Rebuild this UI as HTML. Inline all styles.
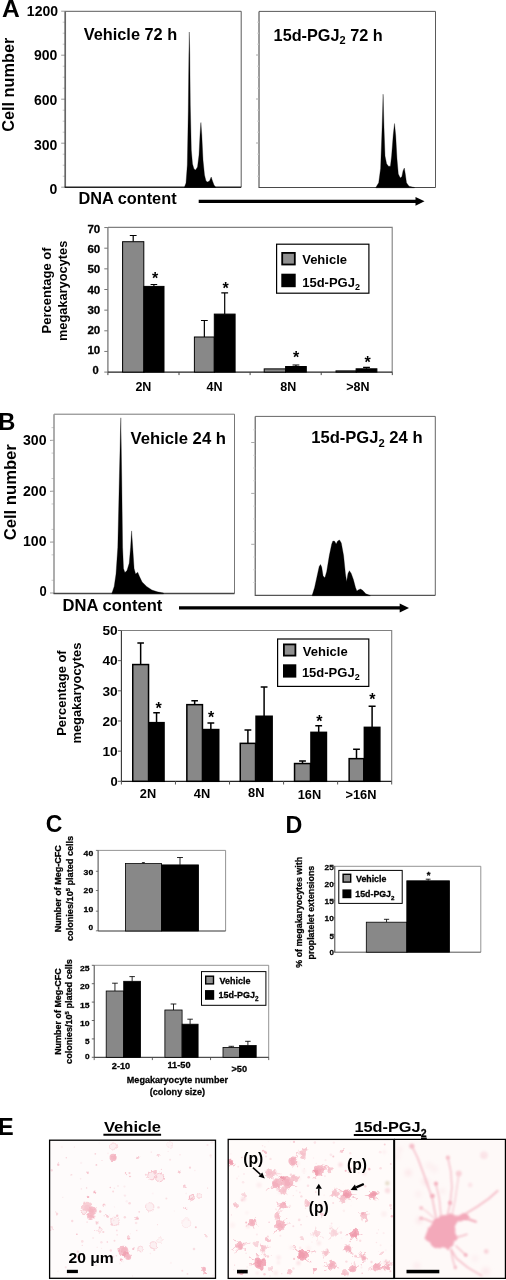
<!DOCTYPE html>
<html><head><meta charset="utf-8"><title>Figure</title>
<style>html,body{margin:0;padding:0;background:#fff;}body{width:506px;height:1280px;overflow:hidden;font-family:"Liberation Sans",sans-serif;}svg{display:block;}</style></head>
<body>
<svg width="506" height="1280" viewBox="0 0 506 1280" font-family="Liberation Sans, sans-serif" font-weight="bold" fill="#000">
<defs>
<filter id="b1" x="-50%" y="-50%" width="200%" height="200%"><feGaussianBlur stdDeviation="1.1"/></filter>
<filter id="b2" x="-50%" y="-50%" width="200%" height="200%"><feGaussianBlur stdDeviation="2.2"/></filter>
<filter id="b05" x="-50%" y="-50%" width="200%" height="200%"><feGaussianBlur stdDeviation="0.6"/></filter>
<filter id="rough" x="-5%" y="-5%" width="110%" height="110%"><feTurbulence type="fractalNoise" baseFrequency="0.22" numOctaves="2" seed="4" result="n"/><feDisplacementMap in="SourceGraphic" in2="n" scale="5" xChannelSelector="R" yChannelSelector="G"/><feGaussianBlur stdDeviation="0.7"/></filter>
<filter id="rough2" x="-5%" y="-5%" width="110%" height="110%"><feTurbulence type="fractalNoise" baseFrequency="0.3" numOctaves="2" seed="9" result="n"/><feDisplacementMap in="SourceGraphic" in2="n" scale="3.5" xChannelSelector="R" yChannelSelector="G"/><feGaussianBlur stdDeviation="0.7"/></filter>
<filter id="rough3" x="-10%" y="-10%" width="120%" height="120%"><feTurbulence type="fractalNoise" baseFrequency="0.09" numOctaves="2" seed="3" result="n"/><feDisplacementMap in="SourceGraphic" in2="n" scale="7" xChannelSelector="R" yChannelSelector="G"/><feGaussianBlur stdDeviation="1.0"/></filter>
<filter id="soft" x="-2%" y="-2%" width="104%" height="104%"><feGaussianBlur stdDeviation="0.3"/></filter>
</defs>
<rect width="506" height="1280" fill="#fff"/>
<g filter="url(#soft)">
<text x="2.0" y="16.8" font-size="24.6" text-anchor="start" >A</text>
<text transform="translate(13.8,84.75) rotate(-90)" font-size="16.3" text-anchor="middle" textLength="94.1" lengthAdjust="spacingAndGlyphs">Cell number</text>
<text x="58.0" y="16.4" font-size="14" text-anchor="end" >1200</text>
<path d="M61.2,11.2 H65.2" stroke="#999" stroke-width="1"/>
<text x="57.4" y="60.2" font-size="14" text-anchor="end" >900</text>
<path d="M61.2,55.2 H65.2" stroke="#999" stroke-width="1"/>
<text x="57.4" y="104.8" font-size="14" text-anchor="end" >600</text>
<path d="M61.2,99.2 H65.2" stroke="#999" stroke-width="1"/>
<text x="57.4" y="149.9" font-size="14" text-anchor="end" >300</text>
<path d="M61.2,143.2 H65.2" stroke="#999" stroke-width="1"/>
<text x="57.4" y="193.9" font-size="14" text-anchor="end" >0</text>
<path d="M61.2,187.2 H65.2" stroke="#999" stroke-width="1"/>
<path d="M62.7,22.2 H65.2" stroke="#c4c4c4" stroke-width="0.9"/>
<path d="M62.7,33.2 H65.2" stroke="#c4c4c4" stroke-width="0.9"/>
<path d="M62.7,44.2 H65.2" stroke="#c4c4c4" stroke-width="0.9"/>
<path d="M62.7,66.2 H65.2" stroke="#c4c4c4" stroke-width="0.9"/>
<path d="M62.7,77.2 H65.2" stroke="#c4c4c4" stroke-width="0.9"/>
<path d="M62.7,88.2 H65.2" stroke="#c4c4c4" stroke-width="0.9"/>
<path d="M62.7,110.2 H65.2" stroke="#c4c4c4" stroke-width="0.9"/>
<path d="M62.7,121.2 H65.2" stroke="#c4c4c4" stroke-width="0.9"/>
<path d="M62.7,132.2 H65.2" stroke="#c4c4c4" stroke-width="0.9"/>
<path d="M62.7,154.2 H65.2" stroke="#c4c4c4" stroke-width="0.9"/>
<path d="M62.7,165.2 H65.2" stroke="#c4c4c4" stroke-width="0.9"/>
<path d="M62.7,176.2 H65.2" stroke="#c4c4c4" stroke-width="0.9"/>
<path d="M65.2,11.3 H241.2 V187.2" fill="none" stroke="#5a5a5a" stroke-width="1"/>
<path d="M65.2,11.3 V187.2" fill="none" stroke="#666" stroke-width="1.7"/>
<path d="M64.7,187.2 H241.2" fill="none" stroke="#222" stroke-width="1.4"/>
<path d="M184.50,187.50 L184.50,187.00 L186.00,183.00 L187.30,165.00 L188.30,110.00 L188.90,55.00 L189.30,32.00 L189.80,55.00 L190.30,105.00 L191.30,150.00 L192.50,164.00 L194.00,169.00 L195.60,170.00 L197.50,167.00 L199.00,155.00 L200.00,135.00 L200.90,122.50 L201.80,135.00 L203.00,160.00 L204.50,175.00 L206.00,181.00 L207.50,182.00 L209.50,181.00 L211.20,177.00 L212.50,181.00 L214.00,185.00 L215.50,187.00 L215.50,187.50 Z" fill="#000" stroke="#000" stroke-width="0.3" stroke-linejoin="round"/>
<text x="83.7" y="40" font-size="16.3" text-anchor="start" textLength="93.5" lengthAdjust="spacingAndGlyphs" >Vehicle 72 h</text>
<path d="M259,11.4 H435.5 V187.5" fill="none" stroke="#5a5a5a" stroke-width="1"/>
<path d="M259,11.4 V187.5 H435.5" fill="none" stroke="#4a4a4a" stroke-width="1.1"/>
<path d="M256,55 H259" stroke="#aaa" stroke-width="1"/>
<path d="M256,99 H259" stroke="#aaa" stroke-width="1"/>
<path d="M256,143 H259" stroke="#aaa" stroke-width="1"/>
<path d="M257,22.2 H259" stroke="#d0d0d0" stroke-width="0.9"/>
<path d="M257,33.2 H259" stroke="#d0d0d0" stroke-width="0.9"/>
<path d="M257,44.2 H259" stroke="#d0d0d0" stroke-width="0.9"/>
<path d="M257,66.2 H259" stroke="#d0d0d0" stroke-width="0.9"/>
<path d="M257,77.2 H259" stroke="#d0d0d0" stroke-width="0.9"/>
<path d="M257,88.2 H259" stroke="#d0d0d0" stroke-width="0.9"/>
<path d="M257,110.2 H259" stroke="#d0d0d0" stroke-width="0.9"/>
<path d="M257,121.2 H259" stroke="#d0d0d0" stroke-width="0.9"/>
<path d="M257,132.2 H259" stroke="#d0d0d0" stroke-width="0.9"/>
<path d="M257,154.2 H259" stroke="#d0d0d0" stroke-width="0.9"/>
<path d="M257,165.2 H259" stroke="#d0d0d0" stroke-width="0.9"/>
<path d="M257,176.2 H259" stroke="#d0d0d0" stroke-width="0.9"/>
<path d="M375.80,187.80 L375.80,187.50 L378.70,182.80 L380.60,168.50 L382.10,127.40 L383.10,94.20 L384.00,127.40 L385.00,155.90 L386.60,163.80 L388.50,166.20 L390.40,166.20 L391.60,155.90 L393.20,135.30 L394.50,123.50 L395.70,135.30 L397.00,159.00 L398.30,174.00 L400.30,178.00 L401.90,176.40 L403.00,170.90 L404.30,168.00 L405.20,173.30 L406.50,182.80 L409.00,186.20 L414.50,187.50 L414.50,187.80 Z" fill="#000" stroke="#000" stroke-width="0.3" stroke-linejoin="round"/>
<text x="273.6" y="40.6" font-size="16.25" text-anchor="start" >15d-PGJ<tspan font-size="11" dy="3.8">2</tspan><tspan dy="-3.85"> 72 h</tspan></text>
<text x="78.4" y="204.3" font-size="16.3" text-anchor="start" textLength="98.2" lengthAdjust="spacingAndGlyphs" >DNA content</text>
<path d="M198.7,201.3 H417" stroke="#000" stroke-width="3.2"/>
<path d="M424.5,201.3 L415.5,196.9 L415.5,205.7 Z" fill="#000"/>
<path d="M107.9,227.4 H392.2 V372.1" fill="none" stroke="#808080" stroke-width="1.1"/>
<path d="M107.9,227.4 V372.1" fill="none" stroke="#777" stroke-width="1.3"/>
<path d="M107.9,372.1 H392.2" fill="none" stroke="#222" stroke-width="1.1"/>
<path d="M104.30000000000001,372.1 H107.9" stroke="#777" stroke-width="1"/>
<text x="98.8" y="374.3" font-size="10.2" text-anchor="end" textLength="6.2" lengthAdjust="spacingAndGlyphs"  stroke="#000" stroke-width="0.28">0</text>
<path d="M104.30000000000001,351.45000000000005 H107.9" stroke="#777" stroke-width="1"/>
<text x="100.2" y="354.1" font-size="10.2" text-anchor="end" textLength="12.8" lengthAdjust="spacingAndGlyphs"  stroke="#000" stroke-width="0.28">10</text>
<path d="M104.30000000000001,330.8 H107.9" stroke="#777" stroke-width="1"/>
<text x="100.2" y="333.90000000000003" font-size="10.2" text-anchor="end" textLength="12.8" lengthAdjust="spacingAndGlyphs"  stroke="#000" stroke-width="0.28">20</text>
<path d="M104.30000000000001,310.15000000000003 H107.9" stroke="#777" stroke-width="1"/>
<text x="100.2" y="313.70000000000005" font-size="10.2" text-anchor="end" textLength="12.8" lengthAdjust="spacingAndGlyphs"  stroke="#000" stroke-width="0.28">30</text>
<path d="M104.30000000000001,289.5 H107.9" stroke="#777" stroke-width="1"/>
<text x="100.2" y="293.5" font-size="10.2" text-anchor="end" textLength="12.8" lengthAdjust="spacingAndGlyphs"  stroke="#000" stroke-width="0.28">40</text>
<path d="M104.30000000000001,268.85 H107.9" stroke="#777" stroke-width="1"/>
<text x="100.2" y="273.3" font-size="10.2" text-anchor="end" textLength="12.8" lengthAdjust="spacingAndGlyphs"  stroke="#000" stroke-width="0.28">50</text>
<path d="M104.30000000000001,248.20000000000005 H107.9" stroke="#777" stroke-width="1"/>
<text x="100.2" y="253.10000000000002" font-size="10.2" text-anchor="end" textLength="12.8" lengthAdjust="spacingAndGlyphs"  stroke="#000" stroke-width="0.28">60</text>
<path d="M104.30000000000001,227.55000000000004 H107.9" stroke="#777" stroke-width="1"/>
<text x="100.2" y="232.9" font-size="10.2" text-anchor="end" textLength="12.8" lengthAdjust="spacingAndGlyphs"  stroke="#000" stroke-width="0.28">70</text>
<path d="M107.9,372.1 V375.1" stroke="#444" stroke-width="1"/>
<path d="M179.0,372.1 V375.1" stroke="#444" stroke-width="1"/>
<path d="M250.1,372.1 V375.1" stroke="#444" stroke-width="1"/>
<path d="M321.2,372.1 V375.1" stroke="#444" stroke-width="1"/>
<path d="M392.29999999999995,372.1 V375.1" stroke="#444" stroke-width="1"/>
<path d="M133.2,241.7 V235.5 M129.79999999999998,235.5 H136.6" stroke="#000" stroke-width="1.2" fill="none"/>
<rect x="122.6" y="241.7" width="21.200000000000017" height="130.40000000000003" fill="#888888" stroke="#000" stroke-width="1.0"/>
<path d="M153.9,286.4 V284.5 M150.6,284.5 H157.20000000000002" stroke="#000" stroke-width="1.2" fill="none"/>
<rect x="143.8" y="286.4" width="20.19999999999999" height="85.70000000000005" fill="#000" stroke="#000" stroke-width="1.0"/>
<path d="M204.35000000000002,337 V320.5 M200.95000000000002,320.5 H207.75000000000003" stroke="#000" stroke-width="1.2" fill="none"/>
<rect x="194.4" y="337" width="19.900000000000006" height="35.10000000000002" fill="#888888" stroke="#000" stroke-width="1.0"/>
<path d="M224.7,314.1 V292.8 M221.29999999999998,292.8 H228.1" stroke="#000" stroke-width="1.2" fill="none"/>
<rect x="214.3" y="314.1" width="20.799999999999983" height="58.0" fill="#000" stroke="#000" stroke-width="1.0"/>
<rect x="264.2" y="368.9" width="21.400000000000034" height="3.2000000000000455" fill="#888888" stroke="#000" stroke-width="1.0"/>
<path d="M295.95000000000005,366.5 V365 M292.55000000000007,365 H299.35" stroke="#000" stroke-width="1.2" fill="none"/>
<rect x="285.6" y="366.5" width="20.69999999999999" height="5.600000000000023" fill="#000" stroke="#000" stroke-width="1.0"/>
<rect x="336" y="370.9" width="20.100000000000023" height="1.2000000000000455" fill="#888888" stroke="#000" stroke-width="1.0"/>
<path d="M366.5,368.8 V367.4 M363.1,367.4 H369.9" stroke="#000" stroke-width="1.2" fill="none"/>
<rect x="356.1" y="368.8" width="20.799999999999955" height="3.3000000000000114" fill="#000" stroke="#000" stroke-width="1.0"/>
<text x="155.1" y="283.64" font-size="16" text-anchor="middle" >*</text>
<text x="225.7" y="294.04" font-size="16" text-anchor="middle" >*</text>
<text x="296" y="363.44" font-size="16" text-anchor="middle" >*</text>
<text x="367.7" y="367.84" font-size="16" text-anchor="middle" >*</text>
<text x="143.4" y="391" font-size="12.5" text-anchor="middle" >2N</text>
<text x="214.5" y="391" font-size="12.5" text-anchor="middle" >4N</text>
<text x="288.2" y="391" font-size="12.5" text-anchor="middle" >8N</text>
<text x="357.8" y="391" font-size="12.5" text-anchor="middle" >&gt;8N</text>
<text transform="translate(51.2,290.4) rotate(-90)" font-size="12" text-anchor="middle" textLength="86" lengthAdjust="spacingAndGlyphs">Percentage of</text>
<text transform="translate(67.1,290.9) rotate(-90)" font-size="12" text-anchor="middle" textLength="100.4" lengthAdjust="spacingAndGlyphs">megakaryocytes</text>
<rect x="276.6" y="244.2" width="92.3" height="49" fill="#fff" stroke="#000" stroke-width="1.2"/>
<rect x="282.2" y="252.9" width="12.6" height="11.6" fill="#909090" stroke="#000" stroke-width="1.8"/>
<rect x="281.3" y="273.7" width="14.4" height="13.5" fill="#000"/>
<text x="302.2" y="264.3" font-size="13" text-anchor="start" >Vehicle</text>
<text x="302.2" y="286.5" font-size="13" text-anchor="start" >15d-PGJ<tspan font-size="9" dy="3.1">2</tspan></text>
<text x="-1.7" y="429.9" font-size="23.7" text-anchor="start" >B</text>
<text transform="translate(16,492.25) rotate(-90)" font-size="16.5" text-anchor="middle" textLength="96.1" lengthAdjust="spacingAndGlyphs">Cell number</text>
<text x="46.6" y="444.59999999999997" font-size="14.2" text-anchor="end" textLength="23.6" lengthAdjust="spacingAndGlyphs" >300</text>
<path d="M50,440.4 H54" stroke="#999" stroke-width="1"/>
<text x="46.6" y="495.5" font-size="14.2" text-anchor="end" textLength="23.6" lengthAdjust="spacingAndGlyphs" >200</text>
<path d="M50,491.3 H54" stroke="#999" stroke-width="1"/>
<text x="46.6" y="546.3000000000001" font-size="14.2" text-anchor="end" textLength="23.6" lengthAdjust="spacingAndGlyphs" >100</text>
<path d="M50,542.1 H54" stroke="#999" stroke-width="1"/>
<text x="46.6" y="596.4" font-size="14.2" text-anchor="end" textLength="7.2" lengthAdjust="spacingAndGlyphs" >0</text>
<path d="M50,593 H54" stroke="#999" stroke-width="1"/>
<path d="M54,414.2 H234.5 V593.5" fill="none" stroke="#777" stroke-width="1"/>
<path d="M51.5,580.28 H54" stroke="#c4c4c4" stroke-width="0.9"/>
<path d="M51.5,554.84 H54" stroke="#c4c4c4" stroke-width="0.9"/>
<path d="M51.5,542.12 H54" stroke="#c4c4c4" stroke-width="0.9"/>
<path d="M51.5,529.4 H54" stroke="#c4c4c4" stroke-width="0.9"/>
<path d="M51.5,503.96 H54" stroke="#c4c4c4" stroke-width="0.9"/>
<path d="M51.5,491.24 H54" stroke="#c4c4c4" stroke-width="0.9"/>
<path d="M51.5,478.52 H54" stroke="#c4c4c4" stroke-width="0.9"/>
<path d="M51.5,453.08 H54" stroke="#c4c4c4" stroke-width="0.9"/>
<path d="M51.5,440.36 H54" stroke="#c4c4c4" stroke-width="0.9"/>
<path d="M51.5,427.64 H54" stroke="#c4c4c4" stroke-width="0.9"/>
<path d="M54,414.2 V593.5" fill="none" stroke="#999" stroke-width="1.6"/>
<path d="M53.5,593.5 H234.5" fill="none" stroke="#444" stroke-width="1.3"/>
<path d="M111.90,593.80 L111.90,593.20 L114.20,586.40 L116.00,574.00 L117.80,547.30 L119.40,476.10 L120.80,417.80 L121.70,476.10 L122.60,547.30 L123.50,568.60 L124.90,572.60 L127.00,570.40 L129.20,563.30 L130.60,547.30 L131.60,530.90 L132.70,547.30 L134.10,568.60 L135.60,574.00 L137.70,572.20 L139.50,576.60 L142.10,582.00 L146.60,586.40 L151.90,590.00 L157.30,591.80 L163.50,593.00 L163.50,593.80 Z" fill="#000" stroke="#000" stroke-width="0.3" stroke-linejoin="round"/>
<text x="130.5" y="443.7" font-size="16.6" text-anchor="start" textLength="95.5" lengthAdjust="spacingAndGlyphs" >Vehicle 24 h</text>
<path d="M255.2,416.4 H435.3 V595.4" fill="none" stroke="#666" stroke-width="1"/>
<path d="M255.2,416.4 V595.4 H435.3" fill="none" stroke="#555" stroke-width="1.1"/>
<path d="M251.2,442.5 H255.2" stroke="#aaa" stroke-width="1"/>
<path d="M251.2,493.4 H255.2" stroke="#aaa" stroke-width="1"/>
<path d="M251.2,544.3 H255.2" stroke="#aaa" stroke-width="1"/>
<path d="M253.2,582.48 H255.2" stroke="#d0d0d0" stroke-width="0.9"/>
<path d="M253.2,569.76 H255.2" stroke="#d0d0d0" stroke-width="0.9"/>
<path d="M253.2,557.0400000000001 H255.2" stroke="#d0d0d0" stroke-width="0.9"/>
<path d="M253.2,531.6 H255.2" stroke="#d0d0d0" stroke-width="0.9"/>
<path d="M253.2,518.88 H255.2" stroke="#d0d0d0" stroke-width="0.9"/>
<path d="M253.2,506.16 H255.2" stroke="#d0d0d0" stroke-width="0.9"/>
<path d="M253.2,480.72 H255.2" stroke="#d0d0d0" stroke-width="0.9"/>
<path d="M253.2,468.00000000000006 H255.2" stroke="#d0d0d0" stroke-width="0.9"/>
<path d="M253.2,455.28000000000003 H255.2" stroke="#d0d0d0" stroke-width="0.9"/>
<path d="M253.2,429.84000000000003 H255.2" stroke="#d0d0d0" stroke-width="0.9"/>
<path d="M312.10,595.80 L312.10,595.60 L314.60,587.60 L316.90,576.90 L319.20,566.60 L320.50,564.50 L321.70,567.10 L323.10,576.00 L324.90,577.80 L326.70,571.60 L329.30,555.60 L331.70,544.00 L332.90,541.00 L334.70,541.30 L336.10,544.00 L337.70,541.00 L339.50,539.90 L341.30,543.10 L343.60,555.60 L345.40,573.40 L346.60,581.40 L348.00,573.40 L349.40,570.70 L351.20,573.40 L353.40,579.60 L355.50,587.60 L356.90,591.10 L358.70,589.70 L360.50,589.00 L362.60,590.30 L365.80,593.80 L370.30,595.60 L370.30,595.80 Z" fill="#000" stroke="#000" stroke-width="0.3" stroke-linejoin="round"/>
<text x="311.2" y="443.2" font-size="16.6" text-anchor="start" >15d-PGJ<tspan font-size="11.2" dy="3.9">2</tspan><tspan dy="-3.9"> 24 h</tspan></text>
<text x="62.5" y="610.7" font-size="16.5" text-anchor="start" textLength="99.8" lengthAdjust="spacingAndGlyphs" >DNA content</text>
<path d="M179,607.9 H401" stroke="#000" stroke-width="3.2"/>
<path d="M409,608 L399.7,603.6 L399.7,612.4 Z" fill="#000"/>
<path d="M121.4,630.5 H391.7 V781.3" fill="none" stroke="#808080" stroke-width="1.1"/>
<path d="M121.4,630.5 V781.3" fill="none" stroke="#333" stroke-width="1.1"/>
<path d="M121.4,781.3 H391.7" fill="none" stroke="#222" stroke-width="1.2"/>
<path d="M117.80000000000001,781.3 H121.4" stroke="#555" stroke-width="1"/>
<text x="117.6" y="786.0" font-size="12.4" text-anchor="end" textLength="7.2" lengthAdjust="spacingAndGlyphs" >0</text>
<path d="M117.80000000000001,751.14 H121.4" stroke="#555" stroke-width="1"/>
<text x="117.6" y="755.84" font-size="12.4" text-anchor="end" textLength="15.2" lengthAdjust="spacingAndGlyphs" >10</text>
<path d="M117.80000000000001,720.9799999999999 H121.4" stroke="#555" stroke-width="1"/>
<text x="117.6" y="725.68" font-size="12.4" text-anchor="end" textLength="15.2" lengthAdjust="spacingAndGlyphs" >20</text>
<path d="M117.80000000000001,690.8199999999999 H121.4" stroke="#555" stroke-width="1"/>
<text x="117.6" y="695.52" font-size="12.4" text-anchor="end" textLength="15.2" lengthAdjust="spacingAndGlyphs" >30</text>
<path d="M117.80000000000001,660.66 H121.4" stroke="#555" stroke-width="1"/>
<text x="117.6" y="665.36" font-size="12.4" text-anchor="end" textLength="15.2" lengthAdjust="spacingAndGlyphs" >40</text>
<path d="M117.80000000000001,630.5 H121.4" stroke="#555" stroke-width="1"/>
<text x="117.6" y="635.2" font-size="12.4" text-anchor="end" textLength="15.2" lengthAdjust="spacingAndGlyphs" >50</text>
<path d="M121.4,781.3 V784.5" stroke="#555" stroke-width="1"/>
<path d="M175.46,781.3 V784.5" stroke="#555" stroke-width="1"/>
<path d="M229.52,781.3 V784.5" stroke="#555" stroke-width="1"/>
<path d="M283.58000000000004,781.3 V784.5" stroke="#555" stroke-width="1"/>
<path d="M337.64,781.3 V784.5" stroke="#555" stroke-width="1"/>
<path d="M391.70000000000005,781.3 V784.5" stroke="#555" stroke-width="1"/>
<path d="M140.65,664.55 V643 M137.35,643 H143.95000000000002" stroke="#000" stroke-width="1.5" fill="none"/>
<rect x="132.75" y="664.55" width="15.800000000000011" height="116.75" fill="#888888" stroke="#000" stroke-width="1.5"/>
<path d="M156.55,722.65 V712.7 M153.25,712.7 H159.85000000000002" stroke="#000" stroke-width="1.5" fill="none"/>
<rect x="149.05" y="722.65" width="15.0" height="58.64999999999998" fill="#000" stroke="#000" stroke-width="1.5"/>
<path d="M194.64999999999998,704.65 V700.8 M191.34999999999997,700.8 H197.95" stroke="#000" stroke-width="1.5" fill="none"/>
<rect x="186.85" y="704.65" width="15.599999999999994" height="76.64999999999998" fill="#888888" stroke="#000" stroke-width="1.5"/>
<path d="M210.85,729.55 V722.9 M207.45,722.9 H214.25" stroke="#000" stroke-width="1.5" fill="none"/>
<rect x="202.95" y="729.55" width="15.800000000000011" height="51.75" fill="#000" stroke="#000" stroke-width="1.5"/>
<path d="M247.9,743.35 V729.9 M244.5,729.9 H251.3" stroke="#000" stroke-width="1.5" fill="none"/>
<rect x="240.25" y="743.35" width="15.300000000000011" height="37.94999999999993" fill="#888888" stroke="#000" stroke-width="1.5"/>
<path d="M264.1,716.25 V687 M260.70000000000005,687 H267.5" stroke="#000" stroke-width="1.5" fill="none"/>
<rect x="256.05" y="716.25" width="16.099999999999966" height="65.04999999999995" fill="#000" stroke="#000" stroke-width="1.5"/>
<path d="M302.5,763.55 V761.1 M299.1,761.1 H305.9" stroke="#000" stroke-width="1.5" fill="none"/>
<rect x="294.55" y="763.55" width="15.899999999999977" height="17.75" fill="#888888" stroke="#000" stroke-width="1.5"/>
<path d="M318.7,732.35 V725.7 M315.3,725.7 H322.09999999999997" stroke="#000" stroke-width="1.5" fill="none"/>
<rect x="310.95" y="732.35" width="15.5" height="48.94999999999993" fill="#000" stroke="#000" stroke-width="1.5"/>
<path d="M356.5,758.65 V749.2 M353.1,749.2 H359.9" stroke="#000" stroke-width="1.5" fill="none"/>
<rect x="349.15" y="758.65" width="14.700000000000045" height="22.649999999999977" fill="#888888" stroke="#000" stroke-width="1.5"/>
<path d="M372.1,727.35 V706.3 M368.6,706.3 H375.6" stroke="#000" stroke-width="1.5" fill="none"/>
<rect x="364.35" y="727.35" width="15.5" height="53.94999999999993" fill="#000" stroke="#000" stroke-width="1.5"/>
<text x="158.7" y="713.84" font-size="16" text-anchor="middle" >*</text>
<text x="211" y="723.04" font-size="16" text-anchor="middle" >*</text>
<text x="319.3" y="727.04" font-size="16" text-anchor="middle" >*</text>
<text x="372.4" y="705.34" font-size="16" text-anchor="middle" >*</text>
<text x="148" y="797.9" font-size="12.8" text-anchor="middle" >2N</text>
<text x="202" y="797.9" font-size="12.8" text-anchor="middle" >4N</text>
<text x="256.2" y="797.2" font-size="12.8" text-anchor="middle" >8N</text>
<text x="309.5" y="799.2" font-size="12.8" text-anchor="middle" >16N</text>
<text x="361" y="799.2" font-size="12.8" text-anchor="middle" >&gt;16N</text>
<text transform="translate(65.75,693.1) rotate(-90)" font-size="12" text-anchor="middle" textLength="85.4" lengthAdjust="spacingAndGlyphs">Percentage of</text>
<text transform="translate(81.2,693.1) rotate(-90)" font-size="12" text-anchor="middle" textLength="100.8" lengthAdjust="spacingAndGlyphs">megakaryocytes</text>
<rect x="277.6" y="639" width="91.2" height="47.4" fill="#fff" stroke="#000" stroke-width="1.2"/>
<rect x="283.9" y="644.4" width="11.5" height="11.2" fill="#909090" stroke="#000" stroke-width="1.8"/>
<rect x="283" y="664.3" width="13.3" height="13.3" fill="#000"/>
<text x="302.8" y="656" font-size="13" text-anchor="start" >Vehicle</text>
<text x="301.9" y="676.7" font-size="13" text-anchor="start" >15d-PGJ<tspan font-size="9" dy="3.1">2</tspan></text>
<text x="45.8" y="832.4" font-size="23" text-anchor="start" >C</text>
<path d="M98.1,850.4 H225.6 V931" fill="none" stroke="#888" stroke-width="0.9"/>
<path d="M98.1,850.4 V931" fill="none" stroke="#444" stroke-width="1"/>
<path d="M98.1,931 H225.6" stroke="#333" stroke-width="1"/>
<text x="93.2" y="929.8" font-size="8" text-anchor="end" textLength="4.6" lengthAdjust="spacingAndGlyphs"  stroke="#000" stroke-width="0.28">0</text>
<path d="M95.89999999999999,930.8 H98.1" stroke="#555" stroke-width="0.8"/>
<text x="93.2" y="911.8" font-size="8" text-anchor="end" textLength="9.6" lengthAdjust="spacingAndGlyphs"  stroke="#000" stroke-width="0.28">10</text>
<path d="M95.89999999999999,911.2 H98.1" stroke="#555" stroke-width="0.8"/>
<text x="93.2" y="893.4" font-size="8" text-anchor="end" textLength="9.6" lengthAdjust="spacingAndGlyphs"  stroke="#000" stroke-width="0.28">20</text>
<path d="M95.89999999999999,890.5 H98.1" stroke="#555" stroke-width="0.8"/>
<text x="93.2" y="874.8" font-size="8" text-anchor="end" textLength="9.6" lengthAdjust="spacingAndGlyphs"  stroke="#000" stroke-width="0.28">30</text>
<path d="M95.89999999999999,871.3 H98.1" stroke="#555" stroke-width="0.8"/>
<text x="93.2" y="856.1" font-size="8" text-anchor="end" textLength="9.6" lengthAdjust="spacingAndGlyphs"  stroke="#000" stroke-width="0.28">40</text>
<path d="M95.89999999999999,850.4 H98.1" stroke="#555" stroke-width="0.8"/>
<path d="M143.4,863.6 V862.6 M141.9,862.6 H144.9" stroke="#000" stroke-width="0.8" fill="none"/>
<rect x="125.4" y="863.6" width="36.0" height="67.39999999999998" fill="#888888" stroke="#000" stroke-width="0.8"/>
<path d="M180.0,864.9 V857.5 M177.05,857.5 H182.95" stroke="#000" stroke-width="0.85" fill="none"/>
<rect x="161.4" y="864.9" width="37.19999999999999" height="66.10000000000002" fill="#000" stroke="#000" stroke-width="0.8"/>
<text transform="translate(61,888.7) rotate(-90)" font-size="9" text-anchor="middle" textLength="87" lengthAdjust="spacingAndGlyphs" stroke="#000" stroke-width="0.28">Number of Meg-CFC</text>
<text transform="translate(72.5,888.4) rotate(-90)" font-size="9.15" text-anchor="middle" stroke="#000" stroke-width="0.28">colonies/10<tspan font-size="5.8" dy="-3">5</tspan><tspan dy="3"> plated cells</tspan></text>
<path d="M94.2,965.3 H268.7 V1057.3" fill="none" stroke="#888" stroke-width="0.9"/>
<path d="M94.2,965.3 V1057.3" fill="none" stroke="#444" stroke-width="1"/>
<path d="M94.2,1057.3 H268.7" fill="none" stroke="#222" stroke-width="1"/>
<text x="89.6" y="1059.2" font-size="8.1" text-anchor="end" textLength="4.6" lengthAdjust="spacingAndGlyphs"  stroke="#000" stroke-width="0.28">0</text>
<path d="M91.8,1057.3 H94.2" stroke="#444" stroke-width="0.8"/>
<text x="89.6" y="1044.3" font-size="8.1" text-anchor="end" textLength="4.6" lengthAdjust="spacingAndGlyphs"  stroke="#000" stroke-width="0.28">5</text>
<path d="M91.8,1038.8999999999999 H94.2" stroke="#444" stroke-width="0.8"/>
<text x="89.6" y="1025.9" font-size="8.1" text-anchor="end" textLength="9.6" lengthAdjust="spacingAndGlyphs"  stroke="#000" stroke-width="0.28">10</text>
<path d="M91.8,1020.5 H94.2" stroke="#444" stroke-width="0.8"/>
<text x="89.6" y="1007.4999999999999" font-size="8.1" text-anchor="end" textLength="9.6" lengthAdjust="spacingAndGlyphs"  stroke="#000" stroke-width="0.28">15</text>
<path d="M91.8,1002.0999999999999 H94.2" stroke="#444" stroke-width="0.8"/>
<text x="89.6" y="989.0999999999999" font-size="8.1" text-anchor="end" textLength="9.6" lengthAdjust="spacingAndGlyphs"  stroke="#000" stroke-width="0.28">20</text>
<path d="M91.8,983.6999999999999 H94.2" stroke="#444" stroke-width="0.8"/>
<text x="89.6" y="970.6999999999999" font-size="8.1" text-anchor="end" textLength="9.6" lengthAdjust="spacingAndGlyphs"  stroke="#000" stroke-width="0.28">25</text>
<path d="M91.8,965.3 H94.2" stroke="#444" stroke-width="0.8"/>
<path d="M94.2,1057.3 V1060.1" stroke="#444" stroke-width="0.8"/>
<path d="M152.37,1057.3 V1060.1" stroke="#444" stroke-width="0.8"/>
<path d="M210.54000000000002,1057.3 V1060.1" stroke="#444" stroke-width="0.8"/>
<path d="M268.71,1057.3 V1060.1" stroke="#444" stroke-width="0.8"/>
<path d="M114.95,991 V983.2 M112.10000000000001,983.2 H117.8" stroke="#000" stroke-width="0.85" fill="none"/>
<rect x="106.2" y="991" width="17.5" height="66.29999999999995" fill="#888888" stroke="#000" stroke-width="0.8"/>
<path d="M132.15,981.3 V976.6 M129.4,976.6 H134.9" stroke="#000" stroke-width="0.85" fill="none"/>
<rect x="123.7" y="981.3" width="16.89999999999999" height="76.0" fill="#000" stroke="#000" stroke-width="0.8"/>
<path d="M173.5,1010 V1004 M170.65,1004 H176.35" stroke="#000" stroke-width="0.85" fill="none"/>
<rect x="164.9" y="1010" width="17.19999999999999" height="47.299999999999955" fill="#888888" stroke="#000" stroke-width="0.8"/>
<path d="M190.1,1024.2 V1019.2 M187.35,1019.2 H192.85" stroke="#000" stroke-width="0.85" fill="none"/>
<rect x="182.1" y="1024.2" width="16.0" height="33.09999999999991" fill="#000" stroke="#000" stroke-width="0.8"/>
<path d="M231.3,1047.4 V1046.3 M228.55,1046.3 H234.05" stroke="#000" stroke-width="0.85" fill="none"/>
<rect x="223" y="1047.4" width="16.599999999999994" height="9.899999999999864" fill="#888888" stroke="#000" stroke-width="0.8"/>
<path d="M247.89999999999998,1045.5 V1041.3 M245.14999999999998,1041.3 H250.64999999999998" stroke="#000" stroke-width="0.85" fill="none"/>
<rect x="239.6" y="1045.5" width="16.599999999999994" height="11.799999999999955" fill="#000" stroke="#000" stroke-width="0.8"/>
<text x="121" y="1068.6" font-size="9.2" text-anchor="middle"  stroke="#000" stroke-width="0.28">2-10</text>
<text x="179" y="1068.4" font-size="9.2" text-anchor="middle"  stroke="#000" stroke-width="0.28">11-50</text>
<text x="239.3" y="1072.2" font-size="9.2" text-anchor="middle"  stroke="#000" stroke-width="0.28">&gt;50</text>
<text x="177.4" y="1082.6" font-size="9.05" text-anchor="middle" textLength="101.2" lengthAdjust="spacingAndGlyphs"  stroke="#000" stroke-width="0.28">Megakaryocyte number</text>
<text x="177.4" y="1094.6" font-size="9.1" text-anchor="middle" textLength="55.3" lengthAdjust="spacingAndGlyphs"  stroke="#000" stroke-width="0.28">(colony size)</text>
<text transform="translate(61,1011.6) rotate(-90)" font-size="9" text-anchor="middle" textLength="86.5" lengthAdjust="spacingAndGlyphs" stroke="#000" stroke-width="0.28">Number of Meg-CFC</text>
<text transform="translate(72,1011.5) rotate(-90)" font-size="9.1" text-anchor="middle" stroke="#000" stroke-width="0.28">colonies/10<tspan font-size="5.8" dy="-3">5</tspan><tspan dy="3"> plated cells</tspan></text>
<rect x="201.5" y="971.6" width="64.4" height="33.7" fill="#fff" stroke="#000" stroke-width="1"/>
<rect x="205.7" y="976.2" width="7.8" height="7.7" fill="#909090" stroke="#000" stroke-width="1.4"/>
<rect x="205" y="990.1" width="9.2" height="9.7" fill="#000"/>
<text x="219.4" y="983.8" font-size="9" text-anchor="start"  stroke="#000" stroke-width="0.28">Vehicle</text>
<text x="218.4" y="998.4" font-size="9" text-anchor="start"  stroke="#000" stroke-width="0.28">15d-PGJ<tspan font-size="6.3" dy="2.2">2</tspan></text>
<text x="285.6" y="833" font-size="23.3" text-anchor="start" >D</text>
<path d="M334.8,866.3 H480.8 V952.2" fill="none" stroke="#888" stroke-width="0.9"/>
<path d="M334.8,866.3 V952.2" fill="none" stroke="#444" stroke-width="1"/>
<path d="M334.8,952.2 H480.8" fill="none" stroke="#555" stroke-width="1"/>
<text x="333.8" y="954.6" font-size="7.9" text-anchor="end" textLength="4.4" lengthAdjust="spacingAndGlyphs"  stroke="#000" stroke-width="0.28">0</text>
<path d="M332.6,952.2 H334.8" stroke="#444" stroke-width="0.8"/>
<text x="333.8" y="938.5200000000001" font-size="7.9" text-anchor="end" textLength="4.4" lengthAdjust="spacingAndGlyphs"  stroke="#000" stroke-width="0.28">5</text>
<path d="M332.6,935.0200000000001 H334.8" stroke="#444" stroke-width="0.8"/>
<text x="333.8" y="921.34" font-size="7.9" text-anchor="end" textLength="9.2" lengthAdjust="spacingAndGlyphs"  stroke="#000" stroke-width="0.28">10</text>
<path d="M332.6,917.84 H334.8" stroke="#444" stroke-width="0.8"/>
<text x="333.8" y="904.1600000000001" font-size="7.9" text-anchor="end" textLength="9.2" lengthAdjust="spacingAndGlyphs"  stroke="#000" stroke-width="0.28">15</text>
<path d="M332.6,900.6600000000001 H334.8" stroke="#444" stroke-width="0.8"/>
<text x="333.8" y="886.98" font-size="7.9" text-anchor="end" textLength="9.2" lengthAdjust="spacingAndGlyphs"  stroke="#000" stroke-width="0.28">20</text>
<path d="M332.6,883.48 H334.8" stroke="#444" stroke-width="0.8"/>
<text x="333.8" y="869.8000000000001" font-size="7.9" text-anchor="end" textLength="9.2" lengthAdjust="spacingAndGlyphs"  stroke="#000" stroke-width="0.28">25</text>
<path d="M332.6,866.3000000000001 H334.8" stroke="#444" stroke-width="0.8"/>
<path d="M386.55,922.2 V919.3 M383.95,919.3 H389.15000000000003" stroke="#000" stroke-width="0.85" fill="none"/>
<rect x="366.3" y="922.2" width="40.5" height="30.0" fill="#888888" stroke="#000" stroke-width="0.8"/>
<path d="M428.15,880.8 V879.2 M425.75,879.2 H430.54999999999995" stroke="#000" stroke-width="0.85" fill="none"/>
<rect x="406.8" y="880.8" width="42.69999999999999" height="71.40000000000009" fill="#000" stroke="#000" stroke-width="0.8"/>
<text x="428.6" y="878.45" font-size="9.5" text-anchor="middle"  stroke="#000" stroke-width="0.28">*</text>
<text transform="translate(301.6,912.3) rotate(-90)" font-size="8.85" text-anchor="middle" textLength="110.7" lengthAdjust="spacingAndGlyphs" stroke="#000" stroke-width="0.28">% of megakaryocytes with</text>
<text transform="translate(313.9,912.6) rotate(-90)" font-size="8.8" text-anchor="middle" textLength="93.7" lengthAdjust="spacingAndGlyphs" stroke="#000" stroke-width="0.28">proplatelet extensions</text>
<rect x="338.8" y="870.4" width="63.4" height="33" fill="#fff" stroke="#000" stroke-width="1"/>
<rect x="343.1" y="874.3" width="7.6" height="7.8" fill="#909090" stroke="#000" stroke-width="1.4"/>
<rect x="342.4" y="889.4" width="9" height="8.8" fill="#000"/>
<text x="356" y="881.9" font-size="8.8" text-anchor="start"  stroke="#000" stroke-width="0.28">Vehicle</text>
<text x="355.3" y="897.3" font-size="8.8" text-anchor="start"  stroke="#000" stroke-width="0.28">15d-PGJ<tspan font-size="6.2" dy="2.2">2</tspan></text>
</g>
<g filter="url(#soft)">
<text x="-2.1" y="1134.9" font-size="23.5" text-anchor="start" >E</text>
<text x="104" y="1131.7" font-size="15" text-anchor="start" textLength="57" lengthAdjust="spacingAndGlyphs" >Vehicle</text>
<path d="M103.4,1134.7 H161.1" stroke="#000" stroke-width="2"/>
<text x="354.4" y="1131.7" font-size="15" text-anchor="start" textLength="66.2" lengthAdjust="spacingAndGlyphs" >15d-PGJ</text>
<text x="420.8" y="1136.6" font-size="10.5" text-anchor="start"  stroke="#000" stroke-width="0.28">2</text>
<path d="M353.8,1135 H421" stroke="#000" stroke-width="2"/>
<path d="M421,1138.3 H426.8" stroke="#000" stroke-width="1.4"/>
</g>
<clipPath id="c1"><rect x="49.6" y="1140.2" width="165.9" height="138.0999999999999"/></clipPath>
<g clip-path="url(#c1)">
<rect x="49.6" y="1140.2" width="165.9" height="138.0999999999999" fill="#fefbfb"/>
<g filter="url(#b05)">
<circle cx="124.8" cy="1217.3" r="1.2" fill="#f5bcc7" opacity="0.53"/>
<circle cx="190.0" cy="1167.7" r="1.1" fill="#f5bcc7" opacity="0.61"/>
<circle cx="180.0" cy="1154.8" r="0.7" fill="#f8d0d7" opacity="0.57"/>
<circle cx="195.8" cy="1227.3" r="1.0" fill="#f5bcc7" opacity="0.78"/>
<circle cx="157.5" cy="1224.7" r="0.6" fill="#f8d0d7" opacity="0.72"/>
<circle cx="61.8" cy="1147.0" r="1.2" fill="#fbe3e7" opacity="0.32"/>
<circle cx="126.7" cy="1201.3" r="1.2" fill="#fbe3e7" opacity="0.42"/>
<circle cx="99.2" cy="1142.8" r="0.6" fill="#fbe3e7" opacity="0.44"/>
<circle cx="213.1" cy="1275.7" r="1.2" fill="#fbe3e7" opacity="0.43"/>
<circle cx="174.3" cy="1211.0" r="0.5" fill="#fbe3e7" opacity="0.68"/>
<circle cx="116.4" cy="1255.7" r="0.8" fill="#f8d0d7" opacity="0.72"/>
<circle cx="51.7" cy="1170.3" r="1.2" fill="#f5bcc7" opacity="0.49"/>
<circle cx="166.4" cy="1198.5" r="1.0" fill="#f8d0d7" opacity="0.69"/>
<circle cx="95.3" cy="1153.9" r="0.8" fill="#f5bcc7" opacity="0.68"/>
<circle cx="70.7" cy="1175.2" r="0.6" fill="#f8d0d7" opacity="0.53"/>
<circle cx="130.4" cy="1233.7" r="0.7" fill="#fbe3e7" opacity="0.40"/>
<circle cx="170.1" cy="1159.8" r="1.0" fill="#f8d0d7" opacity="0.50"/>
<circle cx="211.9" cy="1142.3" r="1.2" fill="#fbe3e7" opacity="0.45"/>
<circle cx="194.9" cy="1170.5" r="0.8" fill="#fbe3e7" opacity="0.62"/>
<circle cx="67.8" cy="1274.9" r="0.7" fill="#f5bcc7" opacity="0.30"/>
<circle cx="150.4" cy="1253.5" r="0.8" fill="#f8d0d7" opacity="0.35"/>
<circle cx="145.9" cy="1174.8" r="1.0" fill="#f5bcc7" opacity="0.61"/>
<circle cx="72.2" cy="1221.0" r="1.2" fill="#f8d0d7" opacity="0.73"/>
<circle cx="81.2" cy="1162.9" r="1.2" fill="#fbe3e7" opacity="0.42"/>
<circle cx="82.3" cy="1241.4" r="1.3" fill="#f8d0d7" opacity="0.64"/>
<circle cx="114.5" cy="1206.9" r="0.6" fill="#f8d0d7" opacity="0.35"/>
<circle cx="57.9" cy="1271.3" r="0.7" fill="#fbe3e7" opacity="0.50"/>
<circle cx="119.7" cy="1263.5" r="0.9" fill="#fbe3e7" opacity="0.39"/>
<circle cx="168.2" cy="1151.4" r="0.7" fill="#fbe3e7" opacity="0.63"/>
<circle cx="151.3" cy="1152.1" r="0.7" fill="#f8d0d7" opacity="0.67"/>
<circle cx="62.8" cy="1197.4" r="0.7" fill="#f8d0d7" opacity="0.39"/>
<circle cx="111.3" cy="1218.9" r="0.6" fill="#f5bcc7" opacity="0.37"/>
<circle cx="124.5" cy="1186.6" r="1.1" fill="#fbe3e7" opacity="0.59"/>
<circle cx="74.3" cy="1146.9" r="0.5" fill="#f5bcc7" opacity="0.65"/>
<circle cx="207.5" cy="1145.1" r="1.0" fill="#f5bcc7" opacity="0.33"/>
<circle cx="102.0" cy="1160.5" r="0.6" fill="#f5bcc7" opacity="0.57"/>
<circle cx="170.9" cy="1262.9" r="1.1" fill="#fbe3e7" opacity="0.36"/>
<circle cx="207.6" cy="1188.0" r="0.6" fill="#f5bcc7" opacity="0.75"/>
<circle cx="192.6" cy="1198.1" r="1.1" fill="#f5bcc7" opacity="0.59"/>
<circle cx="152.8" cy="1193.5" r="1.0" fill="#fbe3e7" opacity="0.34"/>
<circle cx="66.3" cy="1157.7" r="0.7" fill="#f5bcc7" opacity="0.66"/>
<circle cx="114.5" cy="1240.8" r="1.0" fill="#f5bcc7" opacity="0.53"/>
<circle cx="139.2" cy="1211.8" r="0.9" fill="#f5bcc7" opacity="0.60"/>
<circle cx="129.5" cy="1173.1" r="1.1" fill="#f5bcc7" opacity="0.69"/>
<circle cx="158.5" cy="1207.4" r="1.2" fill="#f5bcc7" opacity="0.45"/>
<circle cx="161.4" cy="1169.4" r="0.6" fill="#f5bcc7" opacity="0.63"/>
<circle cx="123.1" cy="1261.8" r="0.8" fill="#fbe3e7" opacity="0.43"/>
<circle cx="154.3" cy="1250.0" r="1.1" fill="#f8d0d7" opacity="0.74"/>
<circle cx="113.8" cy="1220.4" r="0.8" fill="#f8d0d7" opacity="0.37"/>
<circle cx="108.4" cy="1262.3" r="0.5" fill="#f8d0d7" opacity="0.78"/>
<circle cx="96.4" cy="1164.9" r="0.9" fill="#f5bcc7" opacity="0.76"/>
<circle cx="186.1" cy="1193.5" r="0.9" fill="#fbe3e7" opacity="0.46"/>
<circle cx="187.5" cy="1273.9" r="0.9" fill="#f8d0d7" opacity="0.71"/>
<circle cx="96.6" cy="1223.7" r="1.0" fill="#f5bcc7" opacity="0.59"/>
<circle cx="101.6" cy="1248.3" r="0.5" fill="#f8d0d7" opacity="0.50"/>
<circle cx="82.3" cy="1245.4" r="0.7" fill="#f8d0d7" opacity="0.70"/>
<circle cx="210.9" cy="1157.7" r="0.6" fill="#fbe3e7" opacity="0.63"/>
<circle cx="182.3" cy="1270.7" r="1.0" fill="#f8d0d7" opacity="0.71"/>
<circle cx="93.1" cy="1238.0" r="1.1" fill="#fbe3e7" opacity="0.66"/>
<circle cx="80.6" cy="1178.7" r="0.8" fill="#fbe3e7" opacity="0.77"/>
<circle cx="132.6" cy="1275.9" r="0.6" fill="#fbe3e7" opacity="0.75"/>
<circle cx="65.7" cy="1267.3" r="1.1" fill="#f8d0d7" opacity="0.53"/>
<circle cx="83.5" cy="1261.2" r="0.5" fill="#fbe3e7" opacity="0.58"/>
<circle cx="194.0" cy="1249.0" r="1.3" fill="#f5bcc7" opacity="0.46"/>
<circle cx="210.6" cy="1155.5" r="1.2" fill="#fbe3e7" opacity="0.76"/>
<circle cx="71.6" cy="1174.7" r="0.8" fill="#f8d0d7" opacity="0.79"/>
<circle cx="138.5" cy="1248.2" r="0.8" fill="#fbe3e7" opacity="0.73"/>
<circle cx="108.0" cy="1153.3" r="0.9" fill="#fbe3e7" opacity="0.51"/>
<circle cx="96.2" cy="1265.5" r="0.7" fill="#f8d0d7" opacity="0.51"/>
<circle cx="57.3" cy="1213.7" r="1.0" fill="#f8d0d7" opacity="0.54"/>
</g>
<g filter="url(#b05)">
<circle cx="103.3" cy="1232.0" r="1.1" fill="#f5bcc7" opacity="0.59"/>
<circle cx="137.8" cy="1218.7" r="1.1" fill="#f2a8b7" opacity="0.75"/>
<circle cx="111.7" cy="1224.4" r="1.1" fill="#f5bcc7" opacity="0.89"/>
<circle cx="96.3" cy="1207.8" r="0.7" fill="#f8d0d7" opacity="0.81"/>
<circle cx="76.9" cy="1234.2" r="0.8" fill="#f2a8b7" opacity="0.80"/>
<circle cx="77.8" cy="1251.8" r="1.2" fill="#f8d0d7" opacity="0.65"/>
<circle cx="78.0" cy="1257.0" r="1.4" fill="#f5bcc7" opacity="0.73"/>
<circle cx="136.1" cy="1223.0" r="1.3" fill="#f8d0d7" opacity="0.48"/>
<circle cx="118.0" cy="1185.9" r="0.7" fill="#f5bcc7" opacity="0.60"/>
<circle cx="99.6" cy="1227.3" r="0.9" fill="#f2a8b7" opacity="0.67"/>
<circle cx="114.3" cy="1188.3" r="0.7" fill="#f8d0d7" opacity="0.53"/>
<circle cx="134.1" cy="1247.8" r="0.8" fill="#f2a8b7" opacity="0.46"/>
<circle cx="87.5" cy="1209.6" r="1.0" fill="#f8d0d7" opacity="0.49"/>
<circle cx="97.1" cy="1247.3" r="0.5" fill="#f5bcc7" opacity="0.51"/>
<circle cx="100.2" cy="1211.5" r="1.2" fill="#f5bcc7" opacity="0.78"/>
<circle cx="86.6" cy="1187.9" r="0.7" fill="#f2a8b7" opacity="0.54"/>
<circle cx="94.7" cy="1230.4" r="0.5" fill="#f2a8b7" opacity="0.58"/>
<circle cx="94.4" cy="1216.6" r="1.1" fill="#f2a8b7" opacity="0.52"/>
<circle cx="137.2" cy="1217.3" r="1.0" fill="#f5bcc7" opacity="0.49"/>
<circle cx="121.4" cy="1251.3" r="0.5" fill="#f2a8b7" opacity="0.86"/>
<circle cx="124.9" cy="1195.6" r="1.2" fill="#f8d0d7" opacity="0.42"/>
<circle cx="112.9" cy="1256.8" r="1.4" fill="#f8d0d7" opacity="0.48"/>
<circle cx="133.2" cy="1249.0" r="1.1" fill="#f2a8b7" opacity="0.72"/>
<circle cx="87.1" cy="1222.1" r="0.9" fill="#f8d0d7" opacity="0.58"/>
<circle cx="117.2" cy="1215.8" r="1.2" fill="#f2a8b7" opacity="0.55"/>
<circle cx="129.6" cy="1203.2" r="1.3" fill="#f8d0d7" opacity="0.72"/>
<circle cx="101.4" cy="1242.2" r="1.2" fill="#f8d0d7" opacity="0.53"/>
<circle cx="117.1" cy="1234.8" r="0.6" fill="#f2a8b7" opacity="0.61"/>
<circle cx="87.9" cy="1215.1" r="1.4" fill="#f8d0d7" opacity="0.69"/>
<circle cx="119.4" cy="1253.2" r="0.7" fill="#f5bcc7" opacity="0.61"/>
<circle cx="110.8" cy="1250.5" r="1.2" fill="#f8d0d7" opacity="0.68"/>
<circle cx="136.7" cy="1230.5" r="0.8" fill="#f5bcc7" opacity="0.41"/>
<circle cx="118.9" cy="1250.7" r="1.2" fill="#f5bcc7" opacity="0.86"/>
<circle cx="107.3" cy="1242.0" r="0.8" fill="#f5bcc7" opacity="0.76"/>
<circle cx="84.5" cy="1202.6" r="1.2" fill="#f8d0d7" opacity="0.67"/>
<circle cx="113.1" cy="1191.5" r="1.0" fill="#f8d0d7" opacity="0.74"/>
<circle cx="110.3" cy="1187.5" r="0.8" fill="#f5bcc7" opacity="0.74"/>
<circle cx="81.4" cy="1188.9" r="0.8" fill="#f8d0d7" opacity="0.49"/>
<circle cx="116.8" cy="1230.4" r="0.9" fill="#f5bcc7" opacity="0.41"/>
<circle cx="104.2" cy="1215.7" r="0.7" fill="#f8d0d7" opacity="0.70"/>
</g>
<g filter="url(#rough2)" opacity="0.85">
<circle cx="113.1" cy="1146.5" r="3.6" fill="#f8d0d7" fill-opacity="0.3" stroke="#f8d0d7" stroke-width="1.0"/>
<circle cx="113.1" cy="1157.4" r="3.6" fill="#f2a8b7" fill-opacity="0.85"/>
<circle cx="113.3" cy="1157.8" r="2.0" fill="#f2a8b7"/>
<circle cx="152" cy="1175.6" r="4.2" fill="#f5bcc7" fill-opacity="0.3" stroke="#f5bcc7" stroke-width="1.0"/>
<circle cx="159.5" cy="1177.5" r="4.2" fill="#f5bcc7" fill-opacity="0.3" stroke="#f5bcc7" stroke-width="1.0"/>
<circle cx="155" cy="1172" r="2" fill="#f5bcc7" fill-opacity="0.85"/>
<circle cx="155.5" cy="1172.7" r="1.1" fill="#f5bcc7"/>
<circle cx="169.8" cy="1144.6" r="3" fill="#fbe3e7" fill-opacity="0.3" stroke="#fbe3e7" stroke-width="1.0"/>
<circle cx="86.8" cy="1206.8" r="5" fill="#f5bcc7" fill-opacity="0.85"/>
<circle cx="87.2" cy="1207.5" r="2.8" fill="#f5bcc7"/>
<circle cx="92.5" cy="1210.8" r="4.2" fill="#f2a8b7" fill-opacity="0.85"/>
<circle cx="91.7" cy="1210.7" r="2.3" fill="#f2a8b7"/>
<circle cx="90.5" cy="1216.5" r="3.4" fill="#f2a8b7" fill-opacity="0.85"/>
<circle cx="91.2" cy="1216.7" r="1.9" fill="#f2a8b7"/>
<circle cx="84" cy="1212" r="2.5" fill="#f5bcc7" fill-opacity="0.3" stroke="#f5bcc7" stroke-width="1.0"/>
<circle cx="115" cy="1221.4" r="4.2" fill="#f8d0d7" fill-opacity="0.3" stroke="#f8d0d7" stroke-width="1.0"/>
<circle cx="149.7" cy="1206.8" r="4.2" fill="#f8d0d7" fill-opacity="0.3" stroke="#f8d0d7" stroke-width="1.0"/>
<circle cx="123.4" cy="1250.7" r="5" fill="#f2a8b7" fill-opacity="0.85"/>
<circle cx="124.0" cy="1250.1" r="2.8" fill="#f2a8b7"/>
<circle cx="126" cy="1254" r="3" fill="#ee93a6" fill-opacity="0.85"/>
<circle cx="126.0" cy="1253.6" r="1.7" fill="#ee93a6"/>
<circle cx="128.2" cy="1257" r="3" fill="#f2a8b7" fill-opacity="0.85"/>
<circle cx="128.3" cy="1257.1" r="1.7" fill="#f2a8b7"/>
<circle cx="121.5" cy="1260" r="1.6" fill="#f2a8b7" fill-opacity="0.85"/>
<circle cx="120.7" cy="1259.5" r="0.9" fill="#f2a8b7"/>
<circle cx="128.8" cy="1237.9" r="1.6" fill="#f2a8b7" fill-opacity="0.85"/>
<circle cx="128.4" cy="1238.6" r="0.9" fill="#f2a8b7"/>
<circle cx="191.7" cy="1197.6" r="2.6" fill="#f2a8b7" fill-opacity="0.3" stroke="#f2a8b7" stroke-width="1.0"/>
<circle cx="199" cy="1195.8" r="2.2" fill="#f8d0d7" fill-opacity="0.3" stroke="#f8d0d7" stroke-width="1.0"/>
<circle cx="186.3" cy="1223.2" r="4.5" fill="#fbe3e7" fill-opacity="0.3" stroke="#fbe3e7" stroke-width="1.0"/>
<circle cx="153.3" cy="1245.2" r="3.6" fill="#f8d0d7" fill-opacity="0.3" stroke="#f8d0d7" stroke-width="1.0"/>
<circle cx="203.8" cy="1269" r="2.2" fill="#f2a8b7" fill-opacity="0.85"/>
<circle cx="204.2" cy="1268.5" r="1.2" fill="#f2a8b7"/>
<circle cx="204.6" cy="1273.5" r="1.4" fill="#f2a8b7" fill-opacity="0.85"/>
<circle cx="205.1" cy="1272.9" r="0.8" fill="#f2a8b7"/>
<circle cx="87.5" cy="1173" r="1.3" fill="#f5bcc7" fill-opacity="0.85"/>
<circle cx="87.7" cy="1172.4" r="0.7" fill="#f5bcc7"/>
<circle cx="138" cy="1157.4" r="1.4" fill="#f5bcc7" fill-opacity="0.85"/>
<circle cx="137.2" cy="1158.0" r="0.8" fill="#f5bcc7"/>
<circle cx="158" cy="1155.6" r="1.3" fill="#f5bcc7" fill-opacity="0.85"/>
<circle cx="157.5" cy="1155.1" r="0.7" fill="#f5bcc7"/>
<circle cx="179" cy="1172" r="1.4" fill="#f5bcc7" fill-opacity="0.85"/>
<circle cx="179.8" cy="1172.6" r="0.8" fill="#f5bcc7"/>
<circle cx="94.8" cy="1192" r="1.5" fill="#f2a8b7" fill-opacity="0.85"/>
<circle cx="94.5" cy="1192.7" r="0.8" fill="#f2a8b7"/>
<circle cx="88" cy="1197" r="1.3" fill="#f2a8b7" fill-opacity="0.85"/>
<circle cx="88.1" cy="1197.3" r="0.7" fill="#f2a8b7"/>
<circle cx="104" cy="1205" r="1.5" fill="#f5bcc7" fill-opacity="0.85"/>
<circle cx="103.5" cy="1205.7" r="0.8" fill="#f5bcc7"/>
<circle cx="107.6" cy="1216" r="1.6" fill="#f5bcc7" fill-opacity="0.85"/>
<circle cx="107.9" cy="1216.7" r="0.9" fill="#f5bcc7"/>
<circle cx="135.8" cy="1218.5" r="1.5" fill="#f5bcc7" fill-opacity="0.85"/>
<circle cx="136.4" cy="1218.2" r="0.8" fill="#f5bcc7"/>
<circle cx="58.3" cy="1164.7" r="1.2" fill="#f5bcc7" fill-opacity="0.85"/>
<circle cx="58.1" cy="1164.2" r="0.7" fill="#f5bcc7"/>
<circle cx="56.5" cy="1214" r="1.6" fill="#f8d0d7" fill-opacity="0.85"/>
<circle cx="55.9" cy="1213.3" r="0.9" fill="#f8d0d7"/>
<circle cx="51.5" cy="1228.7" r="2" fill="#f8d0d7" fill-opacity="0.3" stroke="#f8d0d7" stroke-width="1.0"/>
<circle cx="184.4" cy="1186.7" r="1.3" fill="#f5bcc7" fill-opacity="0.85"/>
<circle cx="184.1" cy="1186.9" r="0.7" fill="#f5bcc7"/>
<circle cx="186" cy="1208.6" r="1.5" fill="#f5bcc7" fill-opacity="0.85"/>
<circle cx="185.2" cy="1208.9" r="0.8" fill="#f5bcc7"/>
<circle cx="206.4" cy="1236" r="1.5" fill="#f8d0d7" fill-opacity="0.85"/>
<circle cx="206.1" cy="1235.7" r="0.8" fill="#f8d0d7"/>
<circle cx="126" cy="1174" r="1.2" fill="#f5bcc7" fill-opacity="0.85"/>
<circle cx="126.5" cy="1174.0" r="0.7" fill="#f5bcc7"/>
<circle cx="130" cy="1176" r="1.2" fill="#f5bcc7" fill-opacity="0.85"/>
<circle cx="129.7" cy="1176.0" r="0.7" fill="#f5bcc7"/>
<circle cx="140.5" cy="1249" r="2.8" fill="#f8d0d7" fill-opacity="0.3" stroke="#f8d0d7" stroke-width="1.0"/>
<circle cx="160" cy="1240" r="2.5" fill="#fbe3e7" fill-opacity="0.3" stroke="#fbe3e7" stroke-width="1.0"/>
<circle cx="100" cy="1230" r="2.2" fill="#f8d0d7" fill-opacity="0.3" stroke="#f8d0d7" stroke-width="1.0"/>
<circle cx="97" cy="1222" r="1.5" fill="#f5bcc7" fill-opacity="0.85"/>
<circle cx="97.3" cy="1221.3" r="0.8" fill="#f5bcc7"/>
</g>
</g>
<rect x="49.6" y="1140.2" width="165.9" height="138.0999999999999" fill="none" stroke="#000" stroke-width="1.3"/>
<g filter="url(#soft)">
<text x="68.5" y="1262.9" font-size="15.2" text-anchor="start" textLength="45.3" lengthAdjust="spacingAndGlyphs" >20 μm</text>
<rect x="66.9" y="1269.8" width="11" height="3.3" fill="#000"/>
</g>
<clipPath id="c2"><rect x="228.2" y="1139.4" width="166.0" height="139.0"/></clipPath>
<g clip-path="url(#c2)">
<rect x="228.2" y="1139.4" width="166.0" height="139.0" fill="#fffbfa"/>
<g filter="url(#b05)">
<circle cx="256.9" cy="1234.5" r="1.1" fill="#fbe3e7" opacity="0.67"/>
<circle cx="390.5" cy="1205.5" r="1.4" fill="#f5bcc7" opacity="0.50"/>
<circle cx="268.4" cy="1141.8" r="0.8" fill="#fbe3e7" opacity="0.28"/>
<circle cx="358.8" cy="1172.8" r="0.7" fill="#f8d0d7" opacity="0.47"/>
<circle cx="391.5" cy="1245.4" r="0.9" fill="#fbe3e7" opacity="0.27"/>
<circle cx="283.5" cy="1208.6" r="0.6" fill="#f2a8b7" opacity="0.26"/>
<circle cx="350.2" cy="1153.3" r="1.2" fill="#f8d0d7" opacity="0.48"/>
<circle cx="319.6" cy="1187.7" r="0.9" fill="#f5bcc7" opacity="0.58"/>
<circle cx="306.3" cy="1252.1" r="0.6" fill="#f5bcc7" opacity="0.35"/>
<circle cx="387.1" cy="1262.1" r="1.2" fill="#f8d0d7" opacity="0.31"/>
<circle cx="307.4" cy="1253.0" r="0.7" fill="#f5bcc7" opacity="0.69"/>
<circle cx="296.6" cy="1190.7" r="0.9" fill="#fbe3e7" opacity="0.41"/>
<circle cx="308.7" cy="1177.3" r="1.3" fill="#f5bcc7" opacity="0.61"/>
<circle cx="391.0" cy="1208.4" r="0.9" fill="#f5bcc7" opacity="0.54"/>
<circle cx="281.8" cy="1273.7" r="0.6" fill="#f5bcc7" opacity="0.56"/>
<circle cx="365.3" cy="1186.3" r="1.2" fill="#f2a8b7" opacity="0.37"/>
<circle cx="257.5" cy="1266.0" r="0.7" fill="#fbe3e7" opacity="0.44"/>
<circle cx="340.9" cy="1232.6" r="1.3" fill="#f5bcc7" opacity="0.45"/>
<circle cx="390.4" cy="1271.2" r="1.0" fill="#f2a8b7" opacity="0.50"/>
<circle cx="291.0" cy="1174.8" r="1.3" fill="#f5bcc7" opacity="0.53"/>
<circle cx="301.4" cy="1196.4" r="1.2" fill="#f8d0d7" opacity="0.67"/>
<circle cx="238.7" cy="1176.2" r="0.8" fill="#fbe3e7" opacity="0.37"/>
<circle cx="294.1" cy="1258.9" r="1.1" fill="#f5bcc7" opacity="0.74"/>
<circle cx="351.0" cy="1206.1" r="0.7" fill="#fbe3e7" opacity="0.26"/>
<circle cx="264.6" cy="1254.6" r="1.2" fill="#f2a8b7" opacity="0.55"/>
<circle cx="299.2" cy="1219.9" r="1.3" fill="#f2a8b7" opacity="0.32"/>
<circle cx="325.5" cy="1160.2" r="1.1" fill="#fbe3e7" opacity="0.59"/>
<circle cx="384.7" cy="1144.6" r="1.0" fill="#f5bcc7" opacity="0.68"/>
<circle cx="324.9" cy="1176.1" r="0.9" fill="#f5bcc7" opacity="0.32"/>
<circle cx="245.6" cy="1154.1" r="0.5" fill="#fbe3e7" opacity="0.64"/>
<circle cx="241.8" cy="1157.5" r="0.8" fill="#f2a8b7" opacity="0.52"/>
<circle cx="282.7" cy="1208.1" r="0.7" fill="#f5bcc7" opacity="0.34"/>
<circle cx="369.1" cy="1168.6" r="1.2" fill="#f8d0d7" opacity="0.55"/>
<circle cx="312.0" cy="1242.1" r="0.6" fill="#f8d0d7" opacity="0.44"/>
<circle cx="370.2" cy="1195.1" r="1.0" fill="#f5bcc7" opacity="0.38"/>
<circle cx="343.1" cy="1183.7" r="0.5" fill="#fbe3e7" opacity="0.33"/>
<circle cx="347.8" cy="1275.1" r="1.2" fill="#fbe3e7" opacity="0.72"/>
<circle cx="246.2" cy="1222.6" r="1.0" fill="#f2a8b7" opacity="0.73"/>
<circle cx="280.4" cy="1235.8" r="1.0" fill="#f5bcc7" opacity="0.28"/>
<circle cx="362.2" cy="1273.3" r="0.8" fill="#f2a8b7" opacity="0.58"/>
<circle cx="298.3" cy="1258.6" r="1.1" fill="#fbe3e7" opacity="0.50"/>
<circle cx="383.6" cy="1233.2" r="1.1" fill="#fbe3e7" opacity="0.51"/>
<circle cx="293.3" cy="1195.6" r="0.7" fill="#f8d0d7" opacity="0.58"/>
<circle cx="237.0" cy="1178.6" r="1.0" fill="#fbe3e7" opacity="0.61"/>
<circle cx="304.1" cy="1173.3" r="0.8" fill="#fbe3e7" opacity="0.36"/>
<circle cx="378.4" cy="1229.7" r="0.5" fill="#f5bcc7" opacity="0.50"/>
<circle cx="346.4" cy="1261.6" r="1.2" fill="#f2a8b7" opacity="0.37"/>
<circle cx="378.7" cy="1193.5" r="1.1" fill="#f8d0d7" opacity="0.33"/>
<circle cx="262.9" cy="1259.6" r="1.1" fill="#f8d0d7" opacity="0.53"/>
<circle cx="243.1" cy="1182.3" r="1.3" fill="#fbe3e7" opacity="0.74"/>
<circle cx="390.7" cy="1163.9" r="0.9" fill="#f2a8b7" opacity="0.44"/>
<circle cx="324.4" cy="1166.9" r="0.6" fill="#f8d0d7" opacity="0.41"/>
<circle cx="271.4" cy="1255.5" r="0.6" fill="#f5bcc7" opacity="0.37"/>
<circle cx="341.7" cy="1238.1" r="0.6" fill="#fbe3e7" opacity="0.48"/>
<circle cx="301.0" cy="1224.7" r="0.8" fill="#f5bcc7" opacity="0.58"/>
<circle cx="330.9" cy="1154.8" r="1.4" fill="#f5bcc7" opacity="0.27"/>
<circle cx="361.5" cy="1267.6" r="1.1" fill="#f8d0d7" opacity="0.29"/>
<circle cx="324.2" cy="1195.2" r="0.9" fill="#fbe3e7" opacity="0.37"/>
<circle cx="231.4" cy="1214.9" r="0.6" fill="#f2a8b7" opacity="0.35"/>
<circle cx="290.2" cy="1141.8" r="0.6" fill="#fbe3e7" opacity="0.51"/>
<circle cx="238.2" cy="1166.7" r="0.9" fill="#f5bcc7" opacity="0.36"/>
<circle cx="360.2" cy="1255.3" r="1.3" fill="#f8d0d7" opacity="0.58"/>
<circle cx="242.0" cy="1200.2" r="1.2" fill="#f5bcc7" opacity="0.33"/>
<circle cx="310.8" cy="1212.5" r="1.0" fill="#fbe3e7" opacity="0.49"/>
<circle cx="359.8" cy="1187.0" r="0.7" fill="#f2a8b7" opacity="0.39"/>
<circle cx="333.9" cy="1142.6" r="1.2" fill="#f8d0d7" opacity="0.34"/>
<circle cx="246.1" cy="1253.2" r="0.8" fill="#f2a8b7" opacity="0.28"/>
<circle cx="236.2" cy="1208.2" r="1.1" fill="#fbe3e7" opacity="0.33"/>
<circle cx="247.1" cy="1267.1" r="1.0" fill="#fbe3e7" opacity="0.35"/>
<circle cx="261.6" cy="1270.2" r="0.9" fill="#f2a8b7" opacity="0.66"/>
<circle cx="264.8" cy="1146.9" r="0.8" fill="#f5bcc7" opacity="0.26"/>
<circle cx="289.9" cy="1206.0" r="1.3" fill="#fbe3e7" opacity="0.65"/>
<circle cx="377.0" cy="1233.1" r="0.7" fill="#f8d0d7" opacity="0.74"/>
<circle cx="293.4" cy="1268.5" r="1.3" fill="#f2a8b7" opacity="0.26"/>
<circle cx="287.2" cy="1224.2" r="1.0" fill="#fbe3e7" opacity="0.57"/>
<circle cx="256.4" cy="1267.1" r="1.0" fill="#fbe3e7" opacity="0.35"/>
<circle cx="391.9" cy="1216.3" r="1.2" fill="#f2a8b7" opacity="0.71"/>
<circle cx="269.1" cy="1222.3" r="0.8" fill="#f2a8b7" opacity="0.54"/>
<circle cx="391.3" cy="1264.5" r="1.4" fill="#f8d0d7" opacity="0.74"/>
<circle cx="350.1" cy="1241.5" r="0.7" fill="#f2a8b7" opacity="0.70"/>
<circle cx="313.5" cy="1158.0" r="0.7" fill="#fbe3e7" opacity="0.56"/>
<circle cx="305.5" cy="1208.2" r="0.7" fill="#f5bcc7" opacity="0.38"/>
<circle cx="299.9" cy="1192.4" r="0.9" fill="#f2a8b7" opacity="0.27"/>
<circle cx="369.3" cy="1169.2" r="1.2" fill="#f2a8b7" opacity="0.54"/>
<circle cx="360.2" cy="1240.8" r="1.2" fill="#f5bcc7" opacity="0.44"/>
<circle cx="294.0" cy="1141.9" r="1.1" fill="#f2a8b7" opacity="0.54"/>
<circle cx="391.8" cy="1168.0" r="0.7" fill="#fbe3e7" opacity="0.59"/>
<circle cx="234.6" cy="1265.1" r="0.6" fill="#f2a8b7" opacity="0.48"/>
<circle cx="293.3" cy="1226.2" r="1.0" fill="#f8d0d7" opacity="0.68"/>
<circle cx="351.9" cy="1192.0" r="0.7" fill="#fbe3e7" opacity="0.65"/>
<circle cx="380.6" cy="1168.2" r="1.3" fill="#f8d0d7" opacity="0.62"/>
<circle cx="270.5" cy="1158.9" r="1.2" fill="#f2a8b7" opacity="0.30"/>
<circle cx="330.2" cy="1228.6" r="1.0" fill="#f5bcc7" opacity="0.50"/>
<circle cx="345.7" cy="1170.8" r="1.1" fill="#f2a8b7" opacity="0.71"/>
<circle cx="314.9" cy="1142.6" r="1.3" fill="#f2a8b7" opacity="0.28"/>
<circle cx="343.0" cy="1197.2" r="0.6" fill="#f8d0d7" opacity="0.75"/>
<circle cx="267.9" cy="1236.5" r="0.9" fill="#f2a8b7" opacity="0.47"/>
<circle cx="233.7" cy="1269.8" r="0.6" fill="#fbe3e7" opacity="0.63"/>
<circle cx="333.2" cy="1203.1" r="1.0" fill="#f5bcc7" opacity="0.47"/>
<circle cx="267.9" cy="1256.5" r="1.3" fill="#f5bcc7" opacity="0.64"/>
<circle cx="376.4" cy="1242.5" r="0.8" fill="#f5bcc7" opacity="0.33"/>
<circle cx="359.7" cy="1185.5" r="0.8" fill="#f5bcc7" opacity="0.73"/>
<circle cx="304.2" cy="1168.7" r="0.5" fill="#f5bcc7" opacity="0.67"/>
<circle cx="266.0" cy="1156.5" r="1.0" fill="#f8d0d7" opacity="0.56"/>
<circle cx="250.0" cy="1158.1" r="1.1" fill="#f5bcc7" opacity="0.52"/>
<circle cx="244.0" cy="1174.1" r="1.0" fill="#f8d0d7" opacity="0.37"/>
<circle cx="300.2" cy="1247.9" r="1.3" fill="#f8d0d7" opacity="0.45"/>
<circle cx="385.6" cy="1250.3" r="1.1" fill="#fbe3e7" opacity="0.27"/>
<circle cx="310.9" cy="1261.7" r="1.2" fill="#fbe3e7" opacity="0.34"/>
<circle cx="380.2" cy="1152.2" r="1.4" fill="#fbe3e7" opacity="0.61"/>
<circle cx="316.2" cy="1163.5" r="0.8" fill="#fbe3e7" opacity="0.58"/>
<circle cx="293.3" cy="1249.6" r="0.5" fill="#f2a8b7" opacity="0.54"/>
<circle cx="309.1" cy="1252.2" r="0.6" fill="#f5bcc7" opacity="0.41"/>
<circle cx="293.5" cy="1177.8" r="1.1" fill="#f5bcc7" opacity="0.27"/>
<circle cx="351.0" cy="1253.1" r="1.0" fill="#f8d0d7" opacity="0.56"/>
<circle cx="306.9" cy="1216.5" r="0.8" fill="#f5bcc7" opacity="0.27"/>
<circle cx="331.6" cy="1223.5" r="0.9" fill="#f8d0d7" opacity="0.46"/>
<circle cx="262.6" cy="1145.7" r="0.7" fill="#f2a8b7" opacity="0.26"/>
<circle cx="355.5" cy="1256.2" r="1.4" fill="#f5bcc7" opacity="0.62"/>
<circle cx="315.8" cy="1192.1" r="0.8" fill="#f5bcc7" opacity="0.60"/>
<circle cx="308.0" cy="1185.7" r="1.3" fill="#f5bcc7" opacity="0.39"/>
<circle cx="351.7" cy="1235.4" r="1.2" fill="#f8d0d7" opacity="0.69"/>
<circle cx="270.1" cy="1276.0" r="0.8" fill="#fbe3e7" opacity="0.66"/>
<circle cx="357.0" cy="1238.8" r="0.5" fill="#f2a8b7" opacity="0.71"/>
<circle cx="264.5" cy="1274.3" r="1.2" fill="#f5bcc7" opacity="0.64"/>
<circle cx="371.5" cy="1262.0" r="1.2" fill="#f5bcc7" opacity="0.50"/>
<circle cx="343.9" cy="1210.8" r="1.4" fill="#fbe3e7" opacity="0.44"/>
<circle cx="380.6" cy="1245.3" r="1.0" fill="#f8d0d7" opacity="0.32"/>
<circle cx="230.9" cy="1153.9" r="0.9" fill="#fbe3e7" opacity="0.27"/>
<circle cx="333.3" cy="1156.4" r="1.0" fill="#f2a8b7" opacity="0.58"/>
</g>
<g filter="url(#b1)">
<circle cx="380.0" cy="1269.5" r="2.8" fill="#fbe3e7" opacity="0.31"/>
<circle cx="279.9" cy="1192.6" r="2.0" fill="#fbe3e7" opacity="0.41"/>
<circle cx="232.5" cy="1225.1" r="2.9" fill="#fbe3e7" opacity="0.33"/>
<circle cx="345.2" cy="1198.3" r="2.3" fill="#f8d0d7" opacity="0.44"/>
<circle cx="239.5" cy="1247.1" r="2.4" fill="#fbe3e7" opacity="0.55"/>
<circle cx="387.5" cy="1190.4" r="2.6" fill="#f8d0d7" opacity="0.69"/>
<circle cx="275.8" cy="1273.0" r="2.4" fill="#f8d0d7" opacity="0.37"/>
<circle cx="308.5" cy="1248.3" r="2.5" fill="#fbe3e7" opacity="0.37"/>
<circle cx="259.1" cy="1185.1" r="2.7" fill="#fbe3e7" opacity="0.53"/>
<circle cx="243.5" cy="1198.9" r="2.4" fill="#f8d0d7" opacity="0.63"/>
<circle cx="283.8" cy="1191.3" r="1.9" fill="#f8d0d7" opacity="0.66"/>
<circle cx="303.9" cy="1170.9" r="1.7" fill="#fbe3e7" opacity="0.58"/>
<circle cx="364.4" cy="1173.5" r="2.3" fill="#fbe3e7" opacity="0.68"/>
<circle cx="257.3" cy="1273.0" r="1.6" fill="#f8d0d7" opacity="0.46"/>
<circle cx="256.5" cy="1171.9" r="1.5" fill="#fbe3e7" opacity="0.62"/>
<circle cx="383.9" cy="1214.1" r="3.0" fill="#fbe3e7" opacity="0.44"/>
<circle cx="388.1" cy="1192.3" r="1.8" fill="#fbe3e7" opacity="0.41"/>
<circle cx="319.0" cy="1243.3" r="2.2" fill="#f8d0d7" opacity="0.39"/>
<circle cx="247.0" cy="1212.8" r="1.8" fill="#fbe3e7" opacity="0.40"/>
<circle cx="298.5" cy="1263.0" r="2.2" fill="#f8d0d7" opacity="0.56"/>
<circle cx="297.3" cy="1163.7" r="2.4" fill="#f8d0d7" opacity="0.33"/>
<circle cx="385.8" cy="1262.6" r="2.6" fill="#f8d0d7" opacity="0.47"/>
<circle cx="278.6" cy="1257.6" r="2.4" fill="#fbe3e7" opacity="0.63"/>
<circle cx="247.8" cy="1226.6" r="2.0" fill="#f8d0d7" opacity="0.40"/>
<circle cx="384.3" cy="1152.0" r="2.3" fill="#fbe3e7" opacity="0.39"/>
<circle cx="321.1" cy="1204.9" r="2.2" fill="#f8d0d7" opacity="0.30"/>
<circle cx="291.3" cy="1247.5" r="1.7" fill="#f8d0d7" opacity="0.38"/>
<circle cx="340.5" cy="1164.8" r="2.2" fill="#f8d0d7" opacity="0.68"/>
<circle cx="298.2" cy="1178.8" r="2.4" fill="#fbe3e7" opacity="0.51"/>
<circle cx="278.4" cy="1262.7" r="1.6" fill="#fbe3e7" opacity="0.65"/>
</g>
<g filter="url(#rough)" opacity="0.9">
<circle cx="292.9" cy="1161" r="4.5" fill="#f2a8b7" fill-opacity="0.85"/>
<circle cx="293.1" cy="1161.4" r="2.5" fill="#f2a8b7"/>
<path d="M292.9,1161.0 L298.2,1152.7" stroke="#f2a8b7" stroke-width="0.9" stroke-opacity="0.7" fill="none"/>
<path d="M292.9,1161.0 L292.9,1168.0" stroke="#f2a8b7" stroke-width="0.9" stroke-opacity="0.7" fill="none"/>
<path d="M292.9,1161.0 L297.5,1167.9" stroke="#f2a8b7" stroke-width="0.9" stroke-opacity="0.7" fill="none"/>
<circle cx="302.7" cy="1153.5" r="3.2" fill="#f5bcc7" fill-opacity="0.85"/>
<circle cx="303.3" cy="1153.3" r="1.8" fill="#f5bcc7"/>
<path d="M302.7,1153.5 L298.4,1151.3" stroke="#f5bcc7" stroke-width="0.9" stroke-opacity="0.7" fill="none"/>
<path d="M302.7,1153.5 L303.9,1159.0" stroke="#f5bcc7" stroke-width="0.9" stroke-opacity="0.7" fill="none"/>
<path d="M302.7,1153.5 L308.8,1150.0" stroke="#f5bcc7" stroke-width="0.9" stroke-opacity="0.7" fill="none"/>
<circle cx="305" cy="1149" r="2" fill="#f5bcc7" fill-opacity="0.85"/>
<circle cx="304.5" cy="1149.5" r="1.1" fill="#f5bcc7"/>
<circle cx="270.5" cy="1173.5" r="4.5" fill="#f5bcc7" fill-opacity="0.85"/>
<circle cx="269.9" cy="1173.7" r="2.5" fill="#f5bcc7"/>
<path d="M270.5,1173.5 L277.7,1181.4" stroke="#f5bcc7" stroke-width="0.9" stroke-opacity="0.7" fill="none"/>
<path d="M270.5,1173.5 L280.4,1173.8" stroke="#f5bcc7" stroke-width="0.9" stroke-opacity="0.7" fill="none"/>
<path d="M270.5,1173.5 L277.7,1171.7" stroke="#f5bcc7" stroke-width="0.9" stroke-opacity="0.7" fill="none"/>
<path d="M270.5,1173.5 L274.5,1180.4" stroke="#f5bcc7" stroke-width="0.9" stroke-opacity="0.7" fill="none"/>
<circle cx="277" cy="1183.4" r="5" fill="#f2a8b7" fill-opacity="0.85"/>
<circle cx="276.5" cy="1184.0" r="2.8" fill="#f2a8b7"/>
<path d="M277.0,1183.4 L281.9,1194.2" stroke="#f2a8b7" stroke-width="0.9" stroke-opacity="0.7" fill="none"/>
<path d="M277.0,1183.4 L280.9,1194.6" stroke="#f2a8b7" stroke-width="0.9" stroke-opacity="0.7" fill="none"/>
<path d="M277.0,1183.4 L271.4,1188.5" stroke="#f2a8b7" stroke-width="0.9" stroke-opacity="0.7" fill="none"/>
<path d="M277.0,1183.4 L266.9,1189.4" stroke="#f2a8b7" stroke-width="0.9" stroke-opacity="0.7" fill="none"/>
<circle cx="287.2" cy="1182.7" r="6" fill="#f2a8b7" fill-opacity="0.85"/>
<circle cx="286.8" cy="1182.4" r="3.3" fill="#f2a8b7"/>
<path d="M287.2,1182.7 L276.6,1175.4" stroke="#f2a8b7" stroke-width="0.9" stroke-opacity="0.7" fill="none"/>
<path d="M287.2,1182.7 L297.2,1187.1" stroke="#f2a8b7" stroke-width="0.9" stroke-opacity="0.7" fill="none"/>
<path d="M287.2,1182.7 L282.8,1194.7" stroke="#f2a8b7" stroke-width="0.9" stroke-opacity="0.7" fill="none"/>
<circle cx="283" cy="1178" r="3" fill="#ee93a6" fill-opacity="0.85"/>
<circle cx="282.5" cy="1178.0" r="1.7" fill="#ee93a6"/>
<circle cx="294.7" cy="1178" r="3.5" fill="#f5bcc7" fill-opacity="0.85"/>
<circle cx="294.2" cy="1177.6" r="1.9" fill="#f5bcc7"/>
<path d="M294.7,1178.0 L300.8,1176.0" stroke="#f5bcc7" stroke-width="0.9" stroke-opacity="0.7" fill="none"/>
<path d="M294.7,1178.0 L288.9,1181.9" stroke="#f5bcc7" stroke-width="0.9" stroke-opacity="0.7" fill="none"/>
<path d="M294.7,1178.0 L289.1,1181.1" stroke="#f5bcc7" stroke-width="0.9" stroke-opacity="0.7" fill="none"/>
<circle cx="284" cy="1190.5" r="3.5" fill="#f5bcc7" fill-opacity="0.85"/>
<circle cx="284.5" cy="1190.4" r="1.9" fill="#f5bcc7"/>
<path d="M284.0,1190.5 L278.1,1184.7" stroke="#f5bcc7" stroke-width="0.9" stroke-opacity="0.7" fill="none"/>
<path d="M284.0,1190.5 L288.4,1194.6" stroke="#f5bcc7" stroke-width="0.9" stroke-opacity="0.7" fill="none"/>
<path d="M284.0,1190.5 L286.8,1184.4" stroke="#f5bcc7" stroke-width="0.9" stroke-opacity="0.7" fill="none"/>
<path d="M284.0,1190.5 L276.0,1189.9" stroke="#f5bcc7" stroke-width="0.9" stroke-opacity="0.7" fill="none"/>
<circle cx="318.8" cy="1170.5" r="5.2" fill="#f2a8b7" fill-opacity="0.85"/>
<circle cx="318.4" cy="1170.4" r="2.9" fill="#f2a8b7"/>
<path d="M318.8,1170.5 L323.9,1164.3" stroke="#f2a8b7" stroke-width="0.9" stroke-opacity="0.7" fill="none"/>
<path d="M318.8,1170.5 L326.6,1167.8" stroke="#f2a8b7" stroke-width="0.9" stroke-opacity="0.7" fill="none"/>
<path d="M318.8,1170.5 L313.0,1179.5" stroke="#f2a8b7" stroke-width="0.9" stroke-opacity="0.7" fill="none"/>
<path d="M318.8,1170.5 L327.0,1165.9" stroke="#f2a8b7" stroke-width="0.9" stroke-opacity="0.7" fill="none"/>
<path d="M318.8,1170.5 L328.0,1165.8" stroke="#f2a8b7" stroke-width="0.9" stroke-opacity="0.7" fill="none"/>
<circle cx="316" cy="1172" r="2.5" fill="#ee93a6" fill-opacity="0.85"/>
<circle cx="315.7" cy="1171.7" r="1.4" fill="#ee93a6"/>
<circle cx="330" cy="1169.7" r="2.6" fill="#f5bcc7" fill-opacity="0.85"/>
<circle cx="329.5" cy="1169.0" r="1.4" fill="#f5bcc7"/>
<circle cx="346.9" cy="1194.6" r="5" fill="#ee93a6" fill-opacity="0.85"/>
<circle cx="346.3" cy="1194.9" r="2.8" fill="#ee93a6"/>
<path d="M346.9,1194.6 L351.0,1201.2" stroke="#ee93a6" stroke-width="0.9" stroke-opacity="0.7" fill="none"/>
<path d="M346.9,1194.6 L356.8,1193.8" stroke="#ee93a6" stroke-width="0.9" stroke-opacity="0.7" fill="none"/>
<path d="M346.9,1194.6 L339.8,1199.4" stroke="#ee93a6" stroke-width="0.9" stroke-opacity="0.7" fill="none"/>
<path d="M346.9,1194.6 L337.6,1188.4" stroke="#ee93a6" stroke-width="0.9" stroke-opacity="0.7" fill="none"/>
<path d="M346.9,1194.6 L337.9,1197.2" stroke="#ee93a6" stroke-width="0.9" stroke-opacity="0.7" fill="none"/>
<path d="M346.9,1194.6 L357.8,1198.6" stroke="#ee93a6" stroke-width="0.9" stroke-opacity="0.7" fill="none"/>
<circle cx="335" cy="1193.5" r="3.6" fill="#f5bcc7" fill-opacity="0.85"/>
<circle cx="334.3" cy="1193.5" r="2.0" fill="#f5bcc7"/>
<path d="M335.0,1193.5 L340.3,1199.2" stroke="#f5bcc7" stroke-width="0.9" stroke-opacity="0.7" fill="none"/>
<path d="M335.0,1193.5 L342.1,1191.2" stroke="#f5bcc7" stroke-width="0.9" stroke-opacity="0.7" fill="none"/>
<path d="M335.0,1193.5 L336.4,1187.9" stroke="#f5bcc7" stroke-width="0.9" stroke-opacity="0.7" fill="none"/>
<path d="M335.0,1193.5 L329.6,1195.9" stroke="#f5bcc7" stroke-width="0.9" stroke-opacity="0.7" fill="none"/>
<circle cx="372.5" cy="1194.5" r="3.4" fill="#ee93a6" fill-opacity="0.85"/>
<circle cx="373.1" cy="1194.2" r="1.9" fill="#ee93a6"/>
<path d="M372.5,1194.5 L378.7,1191.2" stroke="#ee93a6" stroke-width="0.9" stroke-opacity="0.7" fill="none"/>
<path d="M372.5,1194.5 L375.8,1200.4" stroke="#ee93a6" stroke-width="0.9" stroke-opacity="0.7" fill="none"/>
<path d="M372.5,1194.5 L379.5,1192.7" stroke="#ee93a6" stroke-width="0.9" stroke-opacity="0.7" fill="none"/>
<path d="M372.5,1194.5 L370.0,1199.9" stroke="#ee93a6" stroke-width="0.9" stroke-opacity="0.7" fill="none"/>
<path d="M372.5,1194.5 L364.8,1196.0" stroke="#ee93a6" stroke-width="0.9" stroke-opacity="0.7" fill="none"/>
<path d="M372.5,1194.5 L378.3,1199.4" stroke="#ee93a6" stroke-width="0.9" stroke-opacity="0.7" fill="none"/>
<circle cx="283.3" cy="1205" r="3.2" fill="#f2a8b7" fill-opacity="0.85"/>
<circle cx="283.4" cy="1204.5" r="1.8" fill="#f2a8b7"/>
<path d="M283.3,1205.0 L286.9,1201.1" stroke="#f2a8b7" stroke-width="0.9" stroke-opacity="0.7" fill="none"/>
<path d="M283.3,1205.0 L277.0,1205.3" stroke="#f2a8b7" stroke-width="0.9" stroke-opacity="0.7" fill="none"/>
<path d="M283.3,1205.0 L277.3,1203.1" stroke="#f2a8b7" stroke-width="0.9" stroke-opacity="0.7" fill="none"/>
<path d="M283.3,1205.0 L289.8,1207.7" stroke="#f2a8b7" stroke-width="0.9" stroke-opacity="0.7" fill="none"/>
<path d="M283.3,1205.0 L279.3,1210.1" stroke="#f2a8b7" stroke-width="0.9" stroke-opacity="0.7" fill="none"/>
<path d="M283.3,1205.0 L288.8,1206.2" stroke="#f2a8b7" stroke-width="0.9" stroke-opacity="0.7" fill="none"/>
<circle cx="277.5" cy="1216" r="3.2" fill="#f5bcc7" fill-opacity="0.85"/>
<circle cx="277.6" cy="1216.3" r="1.8" fill="#f5bcc7"/>
<path d="M277.5,1216.0 L276.8,1223.6" stroke="#f5bcc7" stroke-width="0.9" stroke-opacity="0.7" fill="none"/>
<path d="M277.5,1216.0 L275.9,1208.6" stroke="#f5bcc7" stroke-width="0.9" stroke-opacity="0.7" fill="none"/>
<path d="M277.5,1216.0 L274.7,1220.5" stroke="#f5bcc7" stroke-width="0.9" stroke-opacity="0.7" fill="none"/>
<path d="M277.5,1216.0 L281.2,1211.1" stroke="#f5bcc7" stroke-width="0.9" stroke-opacity="0.7" fill="none"/>
<path d="M277.5,1216.0 L278.4,1210.3" stroke="#f5bcc7" stroke-width="0.9" stroke-opacity="0.7" fill="none"/>
<path d="M277.5,1216.0 L276.7,1221.6" stroke="#f5bcc7" stroke-width="0.9" stroke-opacity="0.7" fill="none"/>
<circle cx="280" cy="1225.5" r="5" fill="#f2a8b7" fill-opacity="0.85"/>
<circle cx="280.0" cy="1225.8" r="2.8" fill="#f2a8b7"/>
<path d="M280.0,1225.5 L274.0,1234.0" stroke="#f2a8b7" stroke-width="0.9" stroke-opacity="0.7" fill="none"/>
<path d="M280.0,1225.5 L279.1,1214.3" stroke="#f2a8b7" stroke-width="0.9" stroke-opacity="0.7" fill="none"/>
<path d="M280.0,1225.5 L273.4,1234.6" stroke="#f2a8b7" stroke-width="0.9" stroke-opacity="0.7" fill="none"/>
<path d="M280.0,1225.5 L287.3,1217.8" stroke="#f2a8b7" stroke-width="0.9" stroke-opacity="0.7" fill="none"/>
<path d="M280.0,1225.5 L291.7,1223.7" stroke="#f2a8b7" stroke-width="0.9" stroke-opacity="0.7" fill="none"/>
<circle cx="252" cy="1222.8" r="3.4" fill="#f2a8b7" fill-opacity="0.85"/>
<circle cx="252.0" cy="1222.8" r="1.9" fill="#f2a8b7"/>
<path d="M252.0,1222.8 L254.0,1228.7" stroke="#f2a8b7" stroke-width="0.9" stroke-opacity="0.7" fill="none"/>
<path d="M252.0,1222.8 L255.6,1218.1" stroke="#f2a8b7" stroke-width="0.9" stroke-opacity="0.7" fill="none"/>
<path d="M252.0,1222.8 L258.3,1226.2" stroke="#f2a8b7" stroke-width="0.9" stroke-opacity="0.7" fill="none"/>
<path d="M252.0,1222.8 L245.9,1226.3" stroke="#f2a8b7" stroke-width="0.9" stroke-opacity="0.7" fill="none"/>
<circle cx="364" cy="1215" r="3.4" fill="#f5bcc7" fill-opacity="0.85"/>
<circle cx="364.7" cy="1215.0" r="1.9" fill="#f5bcc7"/>
<path d="M364.0,1215.0 L361.8,1221.4" stroke="#f5bcc7" stroke-width="0.9" stroke-opacity="0.7" fill="none"/>
<path d="M364.0,1215.0 L368.0,1210.6" stroke="#f5bcc7" stroke-width="0.9" stroke-opacity="0.7" fill="none"/>
<path d="M364.0,1215.0 L369.7,1214.9" stroke="#f5bcc7" stroke-width="0.9" stroke-opacity="0.7" fill="none"/>
<path d="M364.0,1215.0 L358.0,1211.4" stroke="#f5bcc7" stroke-width="0.9" stroke-opacity="0.7" fill="none"/>
<path d="M364.0,1215.0 L367.1,1221.7" stroke="#f5bcc7" stroke-width="0.9" stroke-opacity="0.7" fill="none"/>
<path d="M364.0,1215.0 L367.1,1221.6" stroke="#f5bcc7" stroke-width="0.9" stroke-opacity="0.7" fill="none"/>
<circle cx="354.5" cy="1233.2" r="4.5" fill="#ee93a6" fill-opacity="0.85"/>
<circle cx="355.3" cy="1234.0" r="2.5" fill="#ee93a6"/>
<path d="M354.5,1233.2 L361.4,1235.6" stroke="#ee93a6" stroke-width="0.9" stroke-opacity="0.7" fill="none"/>
<path d="M354.5,1233.2 L351.4,1240.0" stroke="#ee93a6" stroke-width="0.9" stroke-opacity="0.7" fill="none"/>
<path d="M354.5,1233.2 L356.9,1239.7" stroke="#ee93a6" stroke-width="0.9" stroke-opacity="0.7" fill="none"/>
<path d="M354.5,1233.2 L346.4,1235.0" stroke="#ee93a6" stroke-width="0.9" stroke-opacity="0.7" fill="none"/>
<circle cx="333.8" cy="1233.2" r="3.6" fill="#f8d0d7" fill-opacity="0.85"/>
<circle cx="334.0" cy="1233.3" r="2.0" fill="#f8d0d7"/>
<path d="M333.8,1233.2 L332.5,1226.7" stroke="#f8d0d7" stroke-width="0.9" stroke-opacity="0.7" fill="none"/>
<path d="M333.8,1233.2 L328.8,1240.0" stroke="#f8d0d7" stroke-width="0.9" stroke-opacity="0.7" fill="none"/>
<path d="M333.8,1233.2 L338.9,1226.7" stroke="#f8d0d7" stroke-width="0.9" stroke-opacity="0.7" fill="none"/>
<path d="M333.8,1233.2 L331.1,1226.5" stroke="#f8d0d7" stroke-width="0.9" stroke-opacity="0.7" fill="none"/>
<circle cx="239.6" cy="1245.6" r="4.5" fill="#f2a8b7" fill-opacity="0.85"/>
<circle cx="240.3" cy="1245.7" r="2.5" fill="#f2a8b7"/>
<path d="M239.6,1245.6 L247.0,1250.6" stroke="#f2a8b7" stroke-width="0.9" stroke-opacity="0.7" fill="none"/>
<path d="M239.6,1245.6 L234.8,1253.3" stroke="#f2a8b7" stroke-width="0.9" stroke-opacity="0.7" fill="none"/>
<path d="M239.6,1245.6 L249.3,1243.0" stroke="#f2a8b7" stroke-width="0.9" stroke-opacity="0.7" fill="none"/>
<path d="M239.6,1245.6 L230.8,1250.5" stroke="#f2a8b7" stroke-width="0.9" stroke-opacity="0.7" fill="none"/>
<path d="M239.6,1245.6 L234.4,1239.2" stroke="#f2a8b7" stroke-width="0.9" stroke-opacity="0.7" fill="none"/>
<circle cx="302.5" cy="1255.2" r="5.5" fill="#ee93a6" fill-opacity="0.85"/>
<circle cx="301.9" cy="1255.4" r="3.0" fill="#ee93a6"/>
<path d="M302.5,1255.2 L315.1,1251.7" stroke="#ee93a6" stroke-width="0.9" stroke-opacity="0.7" fill="none"/>
<path d="M302.5,1255.2 L294.7,1248.9" stroke="#ee93a6" stroke-width="0.9" stroke-opacity="0.7" fill="none"/>
<path d="M302.5,1255.2 L309.0,1250.1" stroke="#ee93a6" stroke-width="0.9" stroke-opacity="0.7" fill="none"/>
<path d="M302.5,1255.2 L311.1,1262.1" stroke="#ee93a6" stroke-width="0.9" stroke-opacity="0.7" fill="none"/>
<path d="M302.5,1255.2 L295.8,1249.3" stroke="#ee93a6" stroke-width="0.9" stroke-opacity="0.7" fill="none"/>
<path d="M302.5,1255.2 L293.8,1246.0" stroke="#ee93a6" stroke-width="0.9" stroke-opacity="0.7" fill="none"/>
<circle cx="259.8" cy="1263.4" r="5.5" fill="#ee93a6" fill-opacity="0.85"/>
<circle cx="259.6" cy="1263.3" r="3.0" fill="#ee93a6"/>
<path d="M259.8,1263.4 L249.2,1263.8" stroke="#ee93a6" stroke-width="0.9" stroke-opacity="0.7" fill="none"/>
<path d="M259.8,1263.4 L257.2,1253.6" stroke="#ee93a6" stroke-width="0.9" stroke-opacity="0.7" fill="none"/>
<path d="M259.8,1263.4 L265.3,1256.3" stroke="#ee93a6" stroke-width="0.9" stroke-opacity="0.7" fill="none"/>
<path d="M259.8,1263.4 L249.9,1256.8" stroke="#ee93a6" stroke-width="0.9" stroke-opacity="0.7" fill="none"/>
<circle cx="326.7" cy="1252.7" r="3.2" fill="#f5bcc7" fill-opacity="0.85"/>
<circle cx="326.4" cy="1252.3" r="1.8" fill="#f5bcc7"/>
<path d="M326.7,1252.7 L323.5,1259.6" stroke="#f5bcc7" stroke-width="0.9" stroke-opacity="0.7" fill="none"/>
<path d="M326.7,1252.7 L321.1,1253.0" stroke="#f5bcc7" stroke-width="0.9" stroke-opacity="0.7" fill="none"/>
<path d="M326.7,1252.7 L321.6,1253.4" stroke="#f5bcc7" stroke-width="0.9" stroke-opacity="0.7" fill="none"/>
<circle cx="332" cy="1265.2" r="4.5" fill="#f2a8b7" fill-opacity="0.85"/>
<circle cx="332.2" cy="1265.1" r="2.5" fill="#f2a8b7"/>
<path d="M332.0,1265.2 L339.1,1267.0" stroke="#f2a8b7" stroke-width="0.9" stroke-opacity="0.7" fill="none"/>
<path d="M332.0,1265.2 L325.2,1270.6" stroke="#f2a8b7" stroke-width="0.9" stroke-opacity="0.7" fill="none"/>
<path d="M332.0,1265.2 L324.8,1262.3" stroke="#f2a8b7" stroke-width="0.9" stroke-opacity="0.7" fill="none"/>
<path d="M332.0,1265.2 L325.2,1266.3" stroke="#f2a8b7" stroke-width="0.9" stroke-opacity="0.7" fill="none"/>
<path d="M332.0,1265.2 L321.9,1265.8" stroke="#f2a8b7" stroke-width="0.9" stroke-opacity="0.7" fill="none"/>
<circle cx="364" cy="1258" r="3.6" fill="#f2a8b7" fill-opacity="0.85"/>
<circle cx="364.4" cy="1257.7" r="2.0" fill="#f2a8b7"/>
<path d="M364.0,1258.0 L358.6,1253.6" stroke="#f2a8b7" stroke-width="0.9" stroke-opacity="0.7" fill="none"/>
<path d="M364.0,1258.0 L359.5,1252.2" stroke="#f2a8b7" stroke-width="0.9" stroke-opacity="0.7" fill="none"/>
<path d="M364.0,1258.0 L363.8,1252.2" stroke="#f2a8b7" stroke-width="0.9" stroke-opacity="0.7" fill="none"/>
<path d="M364.0,1258.0 L364.4,1251.6" stroke="#f2a8b7" stroke-width="0.9" stroke-opacity="0.7" fill="none"/>
<path d="M364.0,1258.0 L357.7,1256.6" stroke="#f2a8b7" stroke-width="0.9" stroke-opacity="0.7" fill="none"/>
<path d="M364.0,1258.0 L361.9,1264.8" stroke="#f2a8b7" stroke-width="0.9" stroke-opacity="0.7" fill="none"/>
<circle cx="376.5" cy="1267" r="3.6" fill="#f2a8b7" fill-opacity="0.85"/>
<circle cx="376.4" cy="1266.8" r="2.0" fill="#f2a8b7"/>
<path d="M376.5,1267.0 L382.6,1268.4" stroke="#f2a8b7" stroke-width="0.9" stroke-opacity="0.7" fill="none"/>
<path d="M376.5,1267.0 L368.5,1269.3" stroke="#f2a8b7" stroke-width="0.9" stroke-opacity="0.7" fill="none"/>
<path d="M376.5,1267.0 L382.0,1262.4" stroke="#f2a8b7" stroke-width="0.9" stroke-opacity="0.7" fill="none"/>
<path d="M376.5,1267.0 L384.4,1267.7" stroke="#f2a8b7" stroke-width="0.9" stroke-opacity="0.7" fill="none"/>
<circle cx="387.2" cy="1267" r="3.2" fill="#f2a8b7" fill-opacity="0.85"/>
<circle cx="387.1" cy="1267.1" r="1.8" fill="#f2a8b7"/>
<path d="M387.2,1267.0 L391.8,1261.4" stroke="#f2a8b7" stroke-width="0.9" stroke-opacity="0.7" fill="none"/>
<path d="M387.2,1267.0 L380.5,1268.0" stroke="#f2a8b7" stroke-width="0.9" stroke-opacity="0.7" fill="none"/>
<path d="M387.2,1267.0 L385.8,1259.7" stroke="#f2a8b7" stroke-width="0.9" stroke-opacity="0.7" fill="none"/>
<path d="M387.2,1267.0 L380.4,1268.5" stroke="#f2a8b7" stroke-width="0.9" stroke-opacity="0.7" fill="none"/>
<path d="M387.2,1267.0 L385.6,1271.5" stroke="#f2a8b7" stroke-width="0.9" stroke-opacity="0.7" fill="none"/>
<path d="M387.2,1267.0 L388.4,1260.6" stroke="#f2a8b7" stroke-width="0.9" stroke-opacity="0.7" fill="none"/>
<circle cx="230.5" cy="1162" r="3.2" fill="#ee93a6" fill-opacity="0.85"/>
<circle cx="230.7" cy="1162.0" r="1.8" fill="#ee93a6"/>
<path d="M230.5,1162.0 L234.4,1166.8" stroke="#ee93a6" stroke-width="0.9" stroke-opacity="0.7" fill="none"/>
<path d="M230.5,1162.0 L224.6,1160.1" stroke="#ee93a6" stroke-width="0.9" stroke-opacity="0.7" fill="none"/>
<path d="M230.5,1162.0 L228.0,1166.6" stroke="#ee93a6" stroke-width="0.9" stroke-opacity="0.7" fill="none"/>
<path d="M230.5,1162.0 L224.4,1158.3" stroke="#ee93a6" stroke-width="0.9" stroke-opacity="0.7" fill="none"/>
<path d="M230.5,1162.0 L235.5,1164.3" stroke="#ee93a6" stroke-width="0.9" stroke-opacity="0.7" fill="none"/>
<circle cx="264.5" cy="1151.3" r="1.8" fill="#f5bcc7" fill-opacity="0.85"/>
<circle cx="265.0" cy="1151.8" r="1.0" fill="#f5bcc7"/>
<circle cx="342.7" cy="1151.3" r="1.8" fill="#f5bcc7" fill-opacity="0.85"/>
<circle cx="343.0" cy="1150.5" r="1.0" fill="#f5bcc7"/>
<circle cx="241.3" cy="1272.3" r="2.6" fill="#f2a8b7" fill-opacity="0.85"/>
<circle cx="241.7" cy="1273.1" r="1.4" fill="#f2a8b7"/>
<circle cx="255.6" cy="1243.8" r="3" fill="#f8d0d7" fill-opacity="0.85"/>
<circle cx="256.4" cy="1244.1" r="1.7" fill="#f8d0d7"/>
<circle cx="314.3" cy="1270.5" r="2.2" fill="#f2a8b7" fill-opacity="0.85"/>
<circle cx="313.6" cy="1271.0" r="1.2" fill="#f2a8b7"/>
<circle cx="301.8" cy="1238.5" r="2.4" fill="#f8d0d7" fill-opacity="0.85"/>
<circle cx="301.4" cy="1238.7" r="1.3" fill="#f8d0d7"/>
<circle cx="307.5" cy="1203" r="3" fill="#f5bcc7" fill-opacity="0.85"/>
<circle cx="308.2" cy="1203.3" r="1.7" fill="#f5bcc7"/>
<circle cx="302.8" cy="1156" r="3" fill="#f5bcc7" fill-opacity="0.85"/>
<circle cx="302.2" cy="1155.7" r="1.7" fill="#f5bcc7"/>
<circle cx="362.9" cy="1214.2" r="2" fill="#f2a8b7" fill-opacity="0.85"/>
<circle cx="363.6" cy="1213.6" r="1.1" fill="#f2a8b7"/>
<circle cx="381.9" cy="1252.7" r="2.2" fill="#f8d0d7" fill-opacity="0.85"/>
<circle cx="382.1" cy="1252.6" r="1.2" fill="#f8d0d7"/>
<circle cx="244" cy="1195" r="2" fill="#f8d0d7" fill-opacity="0.85"/>
<circle cx="243.5" cy="1195.2" r="1.1" fill="#f8d0d7"/>
<circle cx="350" cy="1170" r="2" fill="#f8d0d7" fill-opacity="0.85"/>
<circle cx="349.3" cy="1169.4" r="1.1" fill="#f8d0d7"/>
<circle cx="322" cy="1215" r="2.2" fill="#f8d0d7" fill-opacity="0.85"/>
<circle cx="321.8" cy="1214.3" r="1.2" fill="#f8d0d7"/>
<circle cx="268" cy="1240" r="2.2" fill="#f5bcc7" fill-opacity="0.85"/>
<circle cx="267.3" cy="1240.1" r="1.2" fill="#f5bcc7"/>
<circle cx="345" cy="1273" r="3" fill="#f5bcc7" fill-opacity="0.85"/>
<circle cx="345.4" cy="1273.6" r="1.7" fill="#f5bcc7"/>
<circle cx="290" cy="1272" r="2.5" fill="#f5bcc7" fill-opacity="0.85"/>
<circle cx="289.4" cy="1271.9" r="1.4" fill="#f5bcc7"/>
<circle cx="236" cy="1205" r="2" fill="#f5bcc7" fill-opacity="0.85"/>
<circle cx="235.7" cy="1205.2" r="1.1" fill="#f5bcc7"/>
<circle cx="263.4" cy="1248.4" r="3.2" fill="#f5bcc7" fill-opacity="0.85"/>
<circle cx="263.4" cy="1249.1" r="1.8" fill="#f5bcc7"/>
<path d="M263.4,1248.4 L267.9,1245.7" stroke="#f5bcc7" stroke-width="0.9" stroke-opacity="0.7" fill="none"/>
<path d="M263.4,1248.4 L261.6,1254.6" stroke="#f5bcc7" stroke-width="0.9" stroke-opacity="0.7" fill="none"/>
<path d="M263.4,1248.4 L260.9,1243.3" stroke="#f5bcc7" stroke-width="0.9" stroke-opacity="0.7" fill="none"/>
<path d="M263.4,1248.4 L269.4,1246.1" stroke="#f5bcc7" stroke-width="0.9" stroke-opacity="0.7" fill="none"/>
<path d="M263.4,1248.4 L264.3,1253.3" stroke="#f5bcc7" stroke-width="0.9" stroke-opacity="0.7" fill="none"/>
<circle cx="316.6" cy="1234.3" r="3.5" fill="#f8d0d7" fill-opacity="0.85"/>
<circle cx="316.2" cy="1234.8" r="1.9" fill="#f8d0d7"/>
<path d="M316.6,1234.3 L311.0,1233.7" stroke="#f8d0d7" stroke-width="0.9" stroke-opacity="0.7" fill="none"/>
<path d="M316.6,1234.3 L317.2,1240.7" stroke="#f8d0d7" stroke-width="0.9" stroke-opacity="0.7" fill="none"/>
<path d="M316.6,1234.3 L316.1,1228.5" stroke="#f8d0d7" stroke-width="0.9" stroke-opacity="0.7" fill="none"/>
<path d="M316.6,1234.3 L314.9,1227.2" stroke="#f8d0d7" stroke-width="0.9" stroke-opacity="0.7" fill="none"/>
<path d="M316.6,1234.3 L322.9,1238.1" stroke="#f8d0d7" stroke-width="0.9" stroke-opacity="0.7" fill="none"/>
<circle cx="342.8" cy="1199.8" r="2.8" fill="#f5bcc7" fill-opacity="0.85"/>
<circle cx="342.1" cy="1199.2" r="1.5" fill="#f5bcc7"/>
<circle cx="347.8" cy="1249" r="3.6" fill="#f2a8b7" fill-opacity="0.85"/>
<circle cx="348.0" cy="1248.6" r="2.0" fill="#f2a8b7"/>
<path d="M347.8,1249.0 L341.4,1249.8" stroke="#f2a8b7" stroke-width="0.9" stroke-opacity="0.7" fill="none"/>
<path d="M347.8,1249.0 L349.4,1243.7" stroke="#f2a8b7" stroke-width="0.9" stroke-opacity="0.7" fill="none"/>
<path d="M347.8,1249.0 L346.9,1243.5" stroke="#f2a8b7" stroke-width="0.9" stroke-opacity="0.7" fill="none"/>
<path d="M347.8,1249.0 L352.8,1255.9" stroke="#f2a8b7" stroke-width="0.9" stroke-opacity="0.7" fill="none"/>
<path d="M347.8,1249.0 L345.2,1243.4" stroke="#f2a8b7" stroke-width="0.9" stroke-opacity="0.7" fill="none"/>
<path d="M347.8,1249.0 L354.2,1254.7" stroke="#f2a8b7" stroke-width="0.9" stroke-opacity="0.7" fill="none"/>
<circle cx="352.7" cy="1268.7" r="3.6" fill="#f2a8b7" fill-opacity="0.85"/>
<circle cx="353.0" cy="1269.2" r="2.0" fill="#f2a8b7"/>
<path d="M352.7,1268.7 L350.7,1262.4" stroke="#f2a8b7" stroke-width="0.9" stroke-opacity="0.7" fill="none"/>
<path d="M352.7,1268.7 L356.0,1263.3" stroke="#f2a8b7" stroke-width="0.9" stroke-opacity="0.7" fill="none"/>
<path d="M352.7,1268.7 L359.7,1265.5" stroke="#f2a8b7" stroke-width="0.9" stroke-opacity="0.7" fill="none"/>
<path d="M352.7,1268.7 L354.6,1262.4" stroke="#f2a8b7" stroke-width="0.9" stroke-opacity="0.7" fill="none"/>
<circle cx="270.7" cy="1268.7" r="2.8" fill="#f8d0d7" fill-opacity="0.85"/>
<circle cx="271.1" cy="1268.5" r="1.5" fill="#f8d0d7"/>
</g>
<circle cx="387.3" cy="1183.2" r="2.2" fill="#e6dccb" filter="url(#b1)"/>
</g>
<rect x="228.2" y="1139.4" width="166.0" height="139.0" fill="none" stroke="#000" stroke-width="1.3"/>
<g filter="url(#soft)">
<text x="243.3" y="1164" font-size="15.6" text-anchor="start" >(p)</text>
<text x="347" y="1170" font-size="15.6" text-anchor="start" >(p)</text>
<text x="308.8" y="1212.9" font-size="15.6" text-anchor="start" >(p)</text>
<path d="M252.9,1167.6 L260.4,1174.4" stroke="#000" stroke-width="1.5"/>
<path d="M264.8,1178.5 L258.5,1176.5 L262.3,1172.4 Z" fill="#000"/>
<path d="M318.8,1195.6 L318.8,1188.8" stroke="#000" stroke-width="1.5"/>
<path d="M318.8,1183.8 L321.9,1188.8 L315.7,1188.8 Z" fill="#000"/>
<path d="M363.8,1184.0 L356.2,1187.4" stroke="#000" stroke-width="2.3"/>
<path d="M350.5,1189.9 L354.9,1184.5 L357.5,1190.3 Z" fill="#000"/>
<rect x="237" y="1269.8" width="10.7" height="3.6" fill="#000"/>
</g>
<clipPath id="c3"><rect x="394.2" y="1139.4" width="111.19999999999999" height="139.0"/></clipPath>
<g clip-path="url(#c3)">
<rect x="394.2" y="1139.4" width="111.19999999999999" height="139.0" fill="#fef9f8"/>
<g filter="url(#b2)">
<circle cx="397.5" cy="1156.6" r="2.8" fill="#fbe3e7" opacity="0.46"/>
<circle cx="408.3" cy="1172.7" r="3.5" fill="#fbe3e7" opacity="0.79"/>
<circle cx="399.7" cy="1149.6" r="2.5" fill="#fbe3e7" opacity="0.61"/>
<circle cx="418.2" cy="1221.5" r="2.2" fill="#fbe3e7" opacity="0.54"/>
<circle cx="418.3" cy="1194.3" r="3.2" fill="#fbe3e7" opacity="0.48"/>
<circle cx="419.5" cy="1220.4" r="3.1" fill="#fbe3e7" opacity="0.74"/>
<circle cx="434.3" cy="1168.9" r="3.7" fill="#fbe3e7" opacity="0.41"/>
<circle cx="475.0" cy="1258.6" r="3.3" fill="#fbe3e7" opacity="0.48"/>
<circle cx="442.6" cy="1191.0" r="2.7" fill="#fbe3e7" opacity="0.59"/>
<circle cx="424.4" cy="1181.0" r="3.1" fill="#fbe3e7" opacity="0.66"/>
<circle cx="485.8" cy="1271.2" r="4.0" fill="#fbe3e7" opacity="0.72"/>
<circle cx="429.0" cy="1165.2" r="3.2" fill="#fbe3e7" opacity="0.44"/>
<circle cx="416.9" cy="1265.7" r="3.2" fill="#fbe3e7" opacity="0.67"/>
<circle cx="426.7" cy="1182.7" r="3.7" fill="#fbe3e7" opacity="0.45"/>
</g>
<g filter="url(#b1)" fill="none" stroke="#f5bcc7" stroke-linecap="round" stroke-linejoin="round">
<path d="M435.9,1217.1 L432.4,1198.8 L424.4,1175.9 L417.5,1157.5 L411.8,1146" stroke-width="1.6" stroke="#f5bcc7"/>
<path d="M441,1216 L439.3,1198.8 L435.9,1183.9" stroke-width="1.3" stroke="#f5bcc7"/>
<path d="M447.3,1216 L450.1,1203.4 L451.9,1187.3 L450.8,1171.3 L447.8,1157.5" stroke-width="1.4" stroke="#f5bcc7"/>
<path d="M452,1215 L455.3,1198.8 L457.6,1182.7 L458.8,1173.6" stroke-width="1.5" stroke="#f8d0d7"/>
<path d="M466.8,1213 L477.1,1206.8 L488.6,1198.8 L497.7,1190.8" stroke-width="1.8" stroke="#f5bcc7"/>
<path d="M462,1217 L476,1221.7" stroke-width="2.0" stroke="#f2a8b7"/>
<path d="M455.3,1237.7 L463.4,1235.5 L467,1234.3" stroke-width="1.6" stroke="#f5bcc7"/>
<path d="M450.8,1249 L456.5,1258.4 L467.9,1267.6 L481.7,1275.6" stroke-width="1.6" stroke="#f5bcc7"/>
<path d="M451,1250 L453,1260.7 L455.3,1267.6" stroke-width="1.4" stroke="#f5bcc7"/>
<path d="M456,1246 L465.7,1255" stroke-width="1.4" stroke="#f5bcc7"/>
<path d="M432,1222 L425,1219 L421,1218.3" stroke-width="1.4" stroke="#f5bcc7"/>
<path d="M434,1218 L426,1211 L421,1208" stroke-width="1.2" stroke="#f8d0d7"/>
</g>
<g filter="url(#b1)" opacity="1.0">
<circle cx="411.8" cy="1146" r="2.6" fill="#f5bcc7" fill-opacity="0.85"/>
<circle cx="412.0" cy="1146.4" r="1.4" fill="#f5bcc7"/>
<circle cx="435.9" cy="1183.5" r="2" fill="#f2a8b7" fill-opacity="0.85"/>
<circle cx="436.4" cy="1184.2" r="1.1" fill="#f2a8b7"/>
<circle cx="447.8" cy="1157.5" r="2" fill="#f5bcc7" fill-opacity="0.85"/>
<circle cx="448.2" cy="1158.2" r="1.1" fill="#f5bcc7"/>
<circle cx="458.8" cy="1173.6" r="3" fill="#f8d0d7" fill-opacity="0.85"/>
<circle cx="458.0" cy="1173.5" r="1.7" fill="#f8d0d7"/>
<circle cx="465.7" cy="1255" r="1.8" fill="#f2a8b7" fill-opacity="0.85"/>
<circle cx="466.4" cy="1255.2" r="1.0" fill="#f2a8b7"/>
<circle cx="421" cy="1208" r="1.8" fill="#f5bcc7" fill-opacity="0.85"/>
<circle cx="421.6" cy="1207.4" r="1.0" fill="#f5bcc7"/>
<circle cx="421" cy="1218.3" r="1.8" fill="#f5bcc7" fill-opacity="0.85"/>
<circle cx="421.0" cy="1217.9" r="1.0" fill="#f5bcc7"/>
<circle cx="470.2" cy="1185" r="2.4" fill="#fbe3e7" fill-opacity="0.85"/>
<circle cx="470.3" cy="1185.1" r="1.3" fill="#fbe3e7"/>
<circle cx="486.3" cy="1251.5" r="2.4" fill="#f8d0d7" fill-opacity="0.85"/>
<circle cx="485.5" cy="1251.0" r="1.3" fill="#f8d0d7"/>
<circle cx="484" cy="1155.2" r="4" fill="#fbe3e7" fill-opacity="0.85"/>
<circle cx="483.6" cy="1155.9" r="2.2" fill="#fbe3e7"/>
<circle cx="455.3" cy="1267.6" r="1.6" fill="#f5bcc7" fill-opacity="0.85"/>
<circle cx="455.7" cy="1267.1" r="0.9" fill="#f5bcc7"/>
<circle cx="432.5" cy="1196" r="2.2" fill="#f2a8b7" fill-opacity="0.85"/>
<circle cx="433.0" cy="1195.4" r="1.2" fill="#f2a8b7"/>
<circle cx="450" cy="1203" r="2" fill="#f2a8b7" fill-opacity="0.85"/>
<circle cx="450.2" cy="1202.4" r="1.1" fill="#f2a8b7"/>
</g>
<path filter="url(#rough3)" d="M424.4,1237.7 L427.8,1228.6 L432.4,1221.7 L435.9,1217.1 L447.3,1216 L458.8,1213.7 L466.8,1213 L469.1,1217.1 L458.8,1221.7 L455.3,1228.6 L455.3,1237.7 L453,1246.9 L450.8,1250.4 L445,1246.9 L435.9,1249.2 L431.3,1248.1 L429,1243.5 Z" fill="#f3a9ba"/>
</g>
<path d="M506.4,1139.4 H394.2 M394.2,1278.4 H506.4" fill="none" stroke="#000" stroke-width="1.4"/>
<path d="M394.2,1139.4 V1278.4" fill="none" stroke="#000" stroke-width="1.9"/>
<path d="M505.4,1139.4 V1278.4" fill="none" stroke="#000" stroke-width="1.2"/>
<rect x="406.5" y="1269.8" width="32.8" height="3.5" fill="#000"/>
</svg>
</body></html>
